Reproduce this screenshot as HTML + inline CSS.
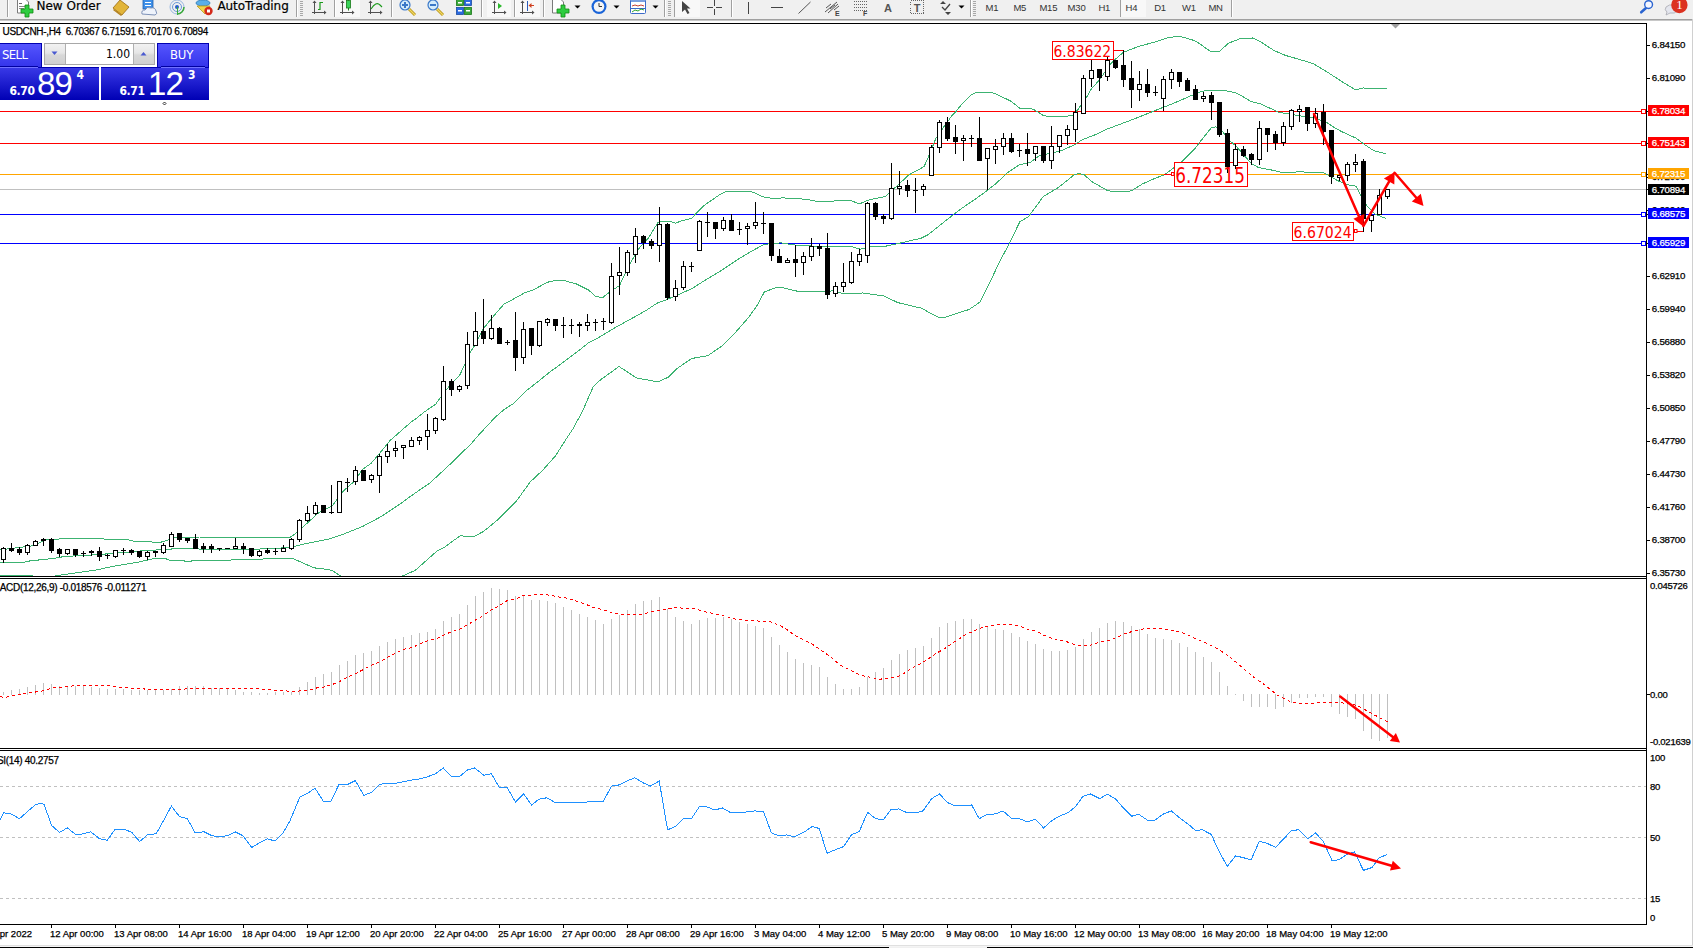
<!DOCTYPE html>
<html><head><meta charset="utf-8"><title>USDCNH-,H4</title>
<style>html,body{margin:0;padding:0;background:#fff;overflow:hidden;width:1693px;height:948px}svg{display:block}text.t{stroke-width:0.25px}</style>
</head><body>
<svg width="1693" height="948" viewBox="0 0 1693 948">
<rect x="0" y="0" width="1693" height="948" fill="#ffffff"/>
<defs><clipPath id="cm"><rect x="0" y="24" width="1646" height="552"/></clipPath><clipPath id="cmacd"><rect x="0" y="579" width="1646" height="169"/></clipPath><clipPath id="crsi"><rect x="0" y="751" width="1646" height="173"/></clipPath></defs>
<rect x="0" y="111" width="1646" height="1" fill="#ff0000"/>
<rect x="0" y="143" width="1646" height="1" fill="#ff0000"/>
<rect x="0" y="174" width="1646" height="1" fill="#ffa500"/>
<rect x="0" y="189" width="1646" height="1" fill="#c0c0c0"/>
<rect x="0" y="214" width="1646" height="1" fill="#0000ff"/>
<rect x="0" y="243" width="1646" height="1" fill="#0000ff"/>
<g clip-path="url(#cm)" shape-rendering="crispEdges">
<polyline fill="none" stroke="#3cb371" stroke-width="1" points="0,549.9 31.9,545.9 47,539.7 62,538.8 103.7,538.8 104.6,539.7 127.6,539.7 136.4,541.9 151.5,541.9 158.6,542.8 166.6,540.6 169.2,539.2 173.7,537.5 200.2,537 201.1,537.9 286.2,537.9 290.1,537.3 296.5,532.9 302.2,527.8 310.4,520.2 318,513.3 324.3,509.5 331.9,506.3 343.3,491.1 354.7,481 362.3,469.6 371.1,463.3 378.7,454.4 390.1,440.5 410,423 417,417.8 425.1,411.4 435.5,404.4 441.3,396.3 446,389.9 454.1,381.2 459.5,375.5 464.5,365.3 469.8,353.2 475.1,344.7 482.5,329.8 491,319.2 496.3,312.8 503.8,304.3 514.4,298.5 525.1,292.6 533.1,290 547.3,282.3 554.3,280.6 565,280.8 576.8,284.1 588.6,290 595.7,296.5 602.8,297.5 608.1,293.3 613.9,289.3 619.5,285.5 629,265.5 638.3,249.2 648.7,237.6 658,222.5 660.5,221.6 671,221.8 675.7,223.2 681.2,220.8 691.5,218.5 695.2,214.5 703.6,205.9 708.8,202 712.7,199.7 719.2,194.9 725.1,191.9 729,191.2 749.8,191.2 755,192.9 762.8,196.8 768,197.8 775.8,198.8 782.9,197.8 791.4,198.8 800,198.8 810.6,200.1 818.7,201.9 839.6,200.7 851.2,200.7 859.4,203.9 869.8,199.6 882.6,197.2 886,196 893.9,188.7 909,174.8 924.1,166.6 928.7,156.2 935.7,138.8 942.7,128.4 952,115.6 957.1,110.2 959.5,106.9 964.2,101.9 971.3,94.8 976,92.7 978.4,92 989.7,92 993.5,93.2 997.3,94.6 1002,97 1006.7,99.1 1010.5,101 1013.3,103.1 1017.1,105.9 1019.5,108.1 1028.5,108.1 1034.3,109.8 1043.6,115.6 1049.3,116.6 1063.2,116.6 1072.5,115.5 1078.3,109.1 1086.4,97.5 1091.1,89.3 1100.3,78.9 1109.6,65 1115.4,59.2 1123.6,52.2 1138.6,46.4 1156,41.7 1167.7,37.7 1176.9,36.5 1181.6,36.9 1190.9,39.4 1196.7,41.7 1208.3,49.9 1211.3,51.7 1219.1,51.7 1228.4,43.2 1241.1,38.3 1252.5,38 1259.5,41.1 1273.7,50.3 1285.1,55.3 1302.1,60.2 1313.4,63.8 1327.6,72.3 1341.8,81.5 1355.9,90 1363,87.9 1370.1,88.6 1387.1,89" />
<polyline fill="none" stroke="#3cb371" stroke-width="1" points="0,562.7 22,562.7 30,560.9 55,558.3 64,556.5 97.5,554.7 142.7,550.8 166.6,549.4 175.4,548.7 197.6,548.7 202,549.9 214.4,549.9 219.7,549 246.3,549 250.7,549.4 280,548.1 292.7,546.8 305.3,543.7 330.6,538.6 343.3,534.2 362.3,526.6 381.3,516.5 400.3,503.8 414.2,493.7 430,482.9 454.1,460.5 471.5,443.3 479.6,434 495.8,416.6 504,409.7 514.2,403 526.9,390.3 538,381.6 550.7,371.3 556.9,367 578.2,351.1 588.8,342.6 597.7,338.1 615.4,327.5 633.2,317.7 646.4,310.2 658,302.6 665,300.3 678.9,294.5 692.8,288.1 704.4,280.6 721.9,270.1 739.3,258.5 750.9,251.6 762.5,245.2 768.3,244 780,242.9 783.9,243.1 792,244.8 816.4,246.3 851.2,246.6 860.5,249.1 871,246.6 883.7,246.6 900.6,243 921.1,238.2 928,234.8 941.7,223.8 954,214.2 962.3,208 973.2,200.5 978.6,196.8 987.9,189.9 996,183.5 1007.7,172.5 1019.3,164.9 1030.9,162 1040,155.1 1051.6,153.4 1063.2,149.9 1074.8,144.6 1081.8,140 1092.2,135.9 1098,133.6 1107.3,129 1116.6,125.5 1132.8,119.5 1156,110.2 1167.7,105.6 1179.3,100.9 1190.9,95.7 1200,92.1 1208.5,90 1222.7,90 1235.4,92.8 1241.2,95.5 1250.5,101.3 1259.8,103.6 1270.2,108.3 1278.4,112.3 1287.7,113.8 1299.3,115.8 1308.9,117 1320.1,119.9 1327.1,122.8 1334.1,127.4 1341.4,131.5 1356.1,138.2 1365,144.8 1373.8,150.7 1386.4,154" />
<polyline fill="none" stroke="#3cb371" stroke-width="1" points="0,575.5 32,575.5 40,578.5 52,578.5 56,575.7 97.5,569.8 109,567.1 140,561.8 153.3,558.7 165.7,558.7 171,560.9 184.3,560.9 185,561.8 190.5,561.8 191.4,560.9 230.4,560.9 231.3,559.6 262.3,559.6 263.4,558.7 292.5,558.4 313.8,567.8 328,569.5 332.7,570.9 341,576.1 350,582.5 390,582.5 402.4,576.1 415.4,570.2 436.7,551.3 443.7,547.8 453.2,540.7 460.3,535.9 474.5,536.4 483.9,531.2 498.1,519.4 515.8,501.9 530.1,482.1 542.7,470.2 555.4,456 566.5,438.6 572.8,429.1 582.3,411.7 593.4,386.3 601.3,379.2 612.4,371.3 619,366.5 636.7,378 658,381.9 668.6,377.1 677.5,368.2 691.6,358.5 707.6,355.8 721.8,346.1 735.9,331.9 748.4,317.7 757.2,305.3 764.3,292 774.9,287.9 783.8,287.9 799,291.6 822.2,291.6 835,290.7 843.1,293.9 862.8,293 883.7,295.9 897.8,302.6 921.1,308.1 939,317.7 945.8,317 969.1,309.5 980.1,302 989.7,282.8 999.3,262.2 1008.9,244.4 1019.8,221.8 1028.1,217 1040.4,200.5 1043.5,196.3 1057.4,188.2 1065.5,181.8 1074.8,174.2 1079.5,173.7 1084.1,174.8 1092.2,181.8 1107.3,190.5 1113.1,191.6 1125.9,191.6 1131.7,190.7 1142.1,184.1 1153.7,178.9 1164.2,174.8 1174.6,167.3 1183,160.5 1194.8,148.9 1201.8,139.6 1211.1,128 1215.7,126.8 1221.5,130.3 1229.6,140.8 1235.4,145.4 1243.6,154.7 1251.7,164 1258.6,167.5 1276,170.9 1281.9,172.7 1293.5,172.1 1300,171.8 1323.6,172.9 1329.5,175.8 1336.9,180.3 1347.3,184.7 1356.1,186.2 1360.6,195 1366.5,205.4 1375.3,214.2 1386.4,218.7" />
</g>
<rect x="1113" y="50" width="11" height="1" fill="#ff0000"/>
<rect x="1052.5" y="41.5" width="61" height="18" fill="#fff" stroke="#ff0000" stroke-width="1" shape-rendering="crispEdges"/>
<rect x="1164" y="174" width="8" height="1" fill="#ff0000"/>
<rect x="1171.5" y="172.5" width="2.5" height="3" fill="#fff" stroke="#ff0000" stroke-width="1"/>
<rect x="1174.5" y="162.5" width="73" height="24" fill="#fff" stroke="#ff0000" stroke-width="1" shape-rendering="crispEdges"/>
<rect x="1357" y="231" width="7" height="1" fill="#ff0000"/>
<rect x="1354.5" y="229.5" width="2.5" height="3" fill="#fff" stroke="#ff0000" stroke-width="1"/>
<rect x="1292.5" y="222.5" width="61" height="18" fill="#fff" stroke="#ff0000" stroke-width="1" shape-rendering="crispEdges"/>
<g clip-path="url(#cm)" shape-rendering="crispEdges">
<rect x="3" y="547" width="1" height="16" fill="#000"/>
<rect x="1" y="548" width="5" height="12" fill="#000"/>
<rect x="2" y="549" width="3" height="10" fill="#fff"/>
<rect x="11" y="543" width="1" height="9" fill="#000"/>
<rect x="9" y="548" width="5" height="3" fill="#000"/>
<rect x="19" y="547" width="1" height="8" fill="#000"/>
<rect x="17" y="549" width="5" height="4" fill="#000"/>
<rect x="27" y="544" width="1" height="11" fill="#000"/>
<rect x="25" y="545" width="5" height="8" fill="#000"/>
<rect x="26" y="546" width="3" height="6" fill="#fff"/>
<rect x="35" y="540" width="1" height="6" fill="#000"/>
<rect x="33" y="541" width="5" height="5" fill="#000"/>
<rect x="34" y="542" width="3" height="3" fill="#fff"/>
<rect x="43" y="538" width="1" height="8" fill="#000"/>
<rect x="41" y="539" width="5" height="2" fill="#000"/>
<rect x="51" y="538" width="1" height="15" fill="#000"/>
<rect x="49" y="539" width="5" height="12" fill="#000"/>
<rect x="59" y="548" width="1" height="9" fill="#000"/>
<rect x="57" y="549" width="5" height="5" fill="#000"/>
<rect x="67" y="549" width="1" height="6" fill="#000"/>
<rect x="65" y="549" width="5" height="5" fill="#000"/>
<rect x="66" y="550" width="3" height="3" fill="#fff"/>
<rect x="75" y="549" width="1" height="8" fill="#000"/>
<rect x="73" y="549" width="5" height="6" fill="#000"/>
<rect x="83" y="551" width="1" height="6" fill="#000"/>
<rect x="81" y="553" width="5" height="1" fill="#000"/>
<rect x="91" y="550" width="1" height="6" fill="#000"/>
<rect x="89" y="551" width="5" height="2" fill="#000"/>
<rect x="99" y="547" width="1" height="14" fill="#000"/>
<rect x="97" y="551" width="5" height="6" fill="#000"/>
<rect x="107" y="554" width="1" height="5" fill="#000"/>
<rect x="105" y="555" width="5" height="1" fill="#000"/>
<rect x="115" y="550" width="1" height="8" fill="#000"/>
<rect x="113" y="550" width="5" height="7" fill="#000"/>
<rect x="114" y="551" width="3" height="5" fill="#fff"/>
<rect x="123" y="548" width="1" height="7" fill="#000"/>
<rect x="121" y="550" width="5" height="1" fill="#000"/>
<rect x="131" y="549" width="1" height="6" fill="#000"/>
<rect x="129" y="550" width="5" height="3" fill="#000"/>
<rect x="139" y="551" width="1" height="7" fill="#000"/>
<rect x="137" y="551" width="5" height="6" fill="#000"/>
<rect x="147" y="551" width="1" height="9" fill="#000"/>
<rect x="145" y="552" width="5" height="5" fill="#000"/>
<rect x="146" y="553" width="3" height="3" fill="#fff"/>
<rect x="155" y="551" width="1" height="6" fill="#000"/>
<rect x="153" y="551" width="5" height="2" fill="#000"/>
<rect x="163" y="543" width="1" height="11" fill="#000"/>
<rect x="161" y="545" width="5" height="8" fill="#000"/>
<rect x="162" y="546" width="3" height="6" fill="#fff"/>
<rect x="171" y="532" width="1" height="15" fill="#000"/>
<rect x="169" y="534" width="5" height="13" fill="#000"/>
<rect x="170" y="535" width="3" height="11" fill="#fff"/>
<rect x="179" y="533" width="1" height="9" fill="#000"/>
<rect x="177" y="533" width="5" height="7" fill="#000"/>
<rect x="187" y="538" width="1" height="5" fill="#000"/>
<rect x="185" y="538" width="5" height="3" fill="#000"/>
<rect x="195" y="534" width="1" height="15" fill="#000"/>
<rect x="193" y="539" width="5" height="10" fill="#000"/>
<rect x="203" y="543" width="1" height="10" fill="#000"/>
<rect x="201" y="546" width="5" height="3" fill="#000"/>
<rect x="211" y="544" width="1" height="9" fill="#000"/>
<rect x="209" y="546" width="5" height="3" fill="#000"/>
<rect x="219" y="548" width="1" height="3" fill="#000"/>
<rect x="217" y="548" width="5" height="1" fill="#000"/>
<rect x="227" y="548" width="1" height="1" fill="#000"/>
<rect x="225" y="548" width="5" height="1" fill="#000"/>
<rect x="235" y="538" width="1" height="11" fill="#000"/>
<rect x="233" y="546" width="5" height="3" fill="#000"/>
<rect x="234" y="547" width="3" height="1" fill="#fff"/>
<rect x="243" y="543" width="1" height="11" fill="#000"/>
<rect x="241" y="546" width="5" height="3" fill="#000"/>
<rect x="251" y="548" width="1" height="9" fill="#000"/>
<rect x="249" y="548" width="5" height="8" fill="#000"/>
<rect x="259" y="550" width="1" height="7" fill="#000"/>
<rect x="257" y="551" width="5" height="5" fill="#000"/>
<rect x="258" y="552" width="3" height="3" fill="#fff"/>
<rect x="267" y="548" width="1" height="6" fill="#000"/>
<rect x="265" y="550" width="5" height="3" fill="#000"/>
<rect x="275" y="548" width="1" height="7" fill="#000"/>
<rect x="273" y="551" width="5" height="1" fill="#000"/>
<rect x="283" y="545" width="1" height="7" fill="#000"/>
<rect x="281" y="548" width="5" height="4" fill="#000"/>
<rect x="282" y="549" width="3" height="2" fill="#fff"/>
<rect x="291" y="538" width="1" height="12" fill="#000"/>
<rect x="289" y="539" width="5" height="10" fill="#000"/>
<rect x="290" y="540" width="3" height="8" fill="#fff"/>
<rect x="299" y="519" width="1" height="23" fill="#000"/>
<rect x="297" y="520" width="5" height="20" fill="#000"/>
<rect x="298" y="521" width="3" height="18" fill="#fff"/>
<rect x="307" y="506" width="1" height="16" fill="#000"/>
<rect x="305" y="513" width="5" height="8" fill="#000"/>
<rect x="306" y="514" width="3" height="6" fill="#fff"/>
<rect x="315" y="502" width="1" height="13" fill="#000"/>
<rect x="313" y="505" width="5" height="9" fill="#000"/>
<rect x="314" y="506" width="3" height="7" fill="#fff"/>
<rect x="323" y="505" width="1" height="8" fill="#000"/>
<rect x="321" y="505" width="5" height="8" fill="#000"/>
<rect x="331" y="485" width="1" height="29" fill="#000"/>
<rect x="329" y="512" width="5" height="1" fill="#000"/>
<rect x="339" y="481" width="1" height="32" fill="#000"/>
<rect x="337" y="481" width="5" height="32" fill="#000"/>
<rect x="338" y="482" width="3" height="30" fill="#fff"/>
<rect x="347" y="478" width="1" height="14" fill="#000"/>
<rect x="345" y="482" width="5" height="1" fill="#000"/>
<rect x="355" y="466" width="1" height="19" fill="#000"/>
<rect x="353" y="470" width="5" height="12" fill="#000"/>
<rect x="354" y="471" width="3" height="10" fill="#fff"/>
<rect x="363" y="470" width="1" height="11" fill="#000"/>
<rect x="361" y="470" width="5" height="11" fill="#000"/>
<rect x="371" y="474" width="1" height="9" fill="#000"/>
<rect x="369" y="475" width="5" height="5" fill="#000"/>
<rect x="370" y="476" width="3" height="3" fill="#fff"/>
<rect x="379" y="454" width="1" height="39" fill="#000"/>
<rect x="377" y="456" width="5" height="20" fill="#000"/>
<rect x="378" y="457" width="3" height="18" fill="#fff"/>
<rect x="387" y="444" width="1" height="19" fill="#000"/>
<rect x="385" y="451" width="5" height="6" fill="#000"/>
<rect x="386" y="452" width="3" height="4" fill="#fff"/>
<rect x="395" y="441" width="1" height="16" fill="#000"/>
<rect x="393" y="448" width="5" height="3" fill="#000"/>
<rect x="394" y="449" width="3" height="1" fill="#fff"/>
<rect x="403" y="445" width="1" height="14" fill="#000"/>
<rect x="401" y="445" width="5" height="3" fill="#000"/>
<rect x="402" y="446" width="3" height="1" fill="#fff"/>
<rect x="411" y="437" width="1" height="10" fill="#000"/>
<rect x="409" y="440" width="5" height="7" fill="#000"/>
<rect x="410" y="441" width="3" height="5" fill="#fff"/>
<rect x="419" y="436" width="1" height="9" fill="#000"/>
<rect x="417" y="437" width="5" height="4" fill="#000"/>
<rect x="418" y="438" width="3" height="2" fill="#fff"/>
<rect x="427" y="414" width="1" height="36" fill="#000"/>
<rect x="425" y="430" width="5" height="7" fill="#000"/>
<rect x="426" y="431" width="3" height="5" fill="#fff"/>
<rect x="435" y="417" width="1" height="17" fill="#000"/>
<rect x="433" y="418" width="5" height="13" fill="#000"/>
<rect x="434" y="419" width="3" height="11" fill="#fff"/>
<rect x="443" y="366" width="1" height="55" fill="#000"/>
<rect x="441" y="381" width="5" height="39" fill="#000"/>
<rect x="442" y="382" width="3" height="37" fill="#fff"/>
<rect x="451" y="379" width="1" height="17" fill="#000"/>
<rect x="449" y="381" width="5" height="9" fill="#000"/>
<rect x="459" y="385" width="1" height="7" fill="#000"/>
<rect x="457" y="386" width="5" height="4" fill="#000"/>
<rect x="458" y="387" width="3" height="2" fill="#fff"/>
<rect x="467" y="332" width="1" height="57" fill="#000"/>
<rect x="465" y="344" width="5" height="42" fill="#000"/>
<rect x="466" y="345" width="3" height="40" fill="#fff"/>
<rect x="475" y="312" width="1" height="34" fill="#000"/>
<rect x="473" y="331" width="5" height="15" fill="#000"/>
<rect x="474" y="332" width="3" height="13" fill="#fff"/>
<rect x="483" y="299" width="1" height="45" fill="#000"/>
<rect x="481" y="331" width="5" height="8" fill="#000"/>
<rect x="491" y="315" width="1" height="25" fill="#000"/>
<rect x="489" y="328" width="5" height="11" fill="#000"/>
<rect x="490" y="329" width="3" height="9" fill="#fff"/>
<rect x="499" y="327" width="1" height="17" fill="#000"/>
<rect x="497" y="328" width="5" height="16" fill="#000"/>
<rect x="507" y="340" width="1" height="5" fill="#000"/>
<rect x="505" y="342" width="5" height="1" fill="#000"/>
<rect x="515" y="312" width="1" height="59" fill="#000"/>
<rect x="513" y="340" width="5" height="18" fill="#000"/>
<rect x="523" y="322" width="1" height="42" fill="#000"/>
<rect x="521" y="329" width="5" height="29" fill="#000"/>
<rect x="522" y="330" width="3" height="27" fill="#fff"/>
<rect x="531" y="328" width="1" height="27" fill="#000"/>
<rect x="529" y="328" width="5" height="18" fill="#000"/>
<rect x="539" y="321" width="1" height="26" fill="#000"/>
<rect x="537" y="321" width="5" height="25" fill="#000"/>
<rect x="538" y="322" width="3" height="23" fill="#fff"/>
<rect x="547" y="318" width="1" height="8" fill="#000"/>
<rect x="545" y="319" width="5" height="4" fill="#000"/>
<rect x="546" y="320" width="3" height="2" fill="#fff"/>
<rect x="555" y="319" width="1" height="12" fill="#000"/>
<rect x="553" y="319" width="5" height="7" fill="#000"/>
<rect x="563" y="317" width="1" height="21" fill="#000"/>
<rect x="561" y="325" width="5" height="1" fill="#000"/>
<rect x="571" y="319" width="1" height="15" fill="#000"/>
<rect x="569" y="325" width="5" height="1" fill="#000"/>
<rect x="579" y="322" width="1" height="15" fill="#000"/>
<rect x="577" y="324" width="5" height="2" fill="#000"/>
<rect x="587" y="314" width="1" height="17" fill="#000"/>
<rect x="585" y="322" width="5" height="4" fill="#000"/>
<rect x="586" y="323" width="3" height="2" fill="#fff"/>
<rect x="595" y="319" width="1" height="12" fill="#000"/>
<rect x="593" y="322" width="5" height="1" fill="#000"/>
<rect x="603" y="318" width="1" height="12" fill="#000"/>
<rect x="601" y="321" width="5" height="1" fill="#000"/>
<rect x="611" y="263" width="1" height="61" fill="#000"/>
<rect x="609" y="276" width="5" height="47" fill="#000"/>
<rect x="610" y="277" width="3" height="45" fill="#fff"/>
<rect x="619" y="247" width="1" height="48" fill="#000"/>
<rect x="617" y="272" width="5" height="4" fill="#000"/>
<rect x="618" y="273" width="3" height="2" fill="#fff"/>
<rect x="627" y="250" width="1" height="26" fill="#000"/>
<rect x="625" y="252" width="5" height="21" fill="#000"/>
<rect x="626" y="253" width="3" height="19" fill="#fff"/>
<rect x="635" y="228" width="1" height="35" fill="#000"/>
<rect x="633" y="236" width="5" height="19" fill="#000"/>
<rect x="634" y="237" width="3" height="17" fill="#fff"/>
<rect x="643" y="235" width="1" height="14" fill="#000"/>
<rect x="641" y="236" width="5" height="7" fill="#000"/>
<rect x="651" y="239" width="1" height="10" fill="#000"/>
<rect x="649" y="241" width="5" height="5" fill="#000"/>
<rect x="659" y="207" width="1" height="55" fill="#000"/>
<rect x="657" y="224" width="5" height="22" fill="#000"/>
<rect x="658" y="225" width="3" height="20" fill="#fff"/>
<rect x="667" y="223" width="1" height="77" fill="#000"/>
<rect x="665" y="224" width="5" height="74" fill="#000"/>
<rect x="675" y="280" width="1" height="21" fill="#000"/>
<rect x="673" y="288" width="5" height="9" fill="#000"/>
<rect x="674" y="289" width="3" height="7" fill="#fff"/>
<rect x="683" y="261" width="1" height="29" fill="#000"/>
<rect x="681" y="266" width="5" height="22" fill="#000"/>
<rect x="682" y="267" width="3" height="20" fill="#fff"/>
<rect x="691" y="262" width="1" height="10" fill="#000"/>
<rect x="689" y="266" width="5" height="1" fill="#000"/>
<rect x="699" y="220" width="1" height="31" fill="#000"/>
<rect x="697" y="221" width="5" height="30" fill="#000"/>
<rect x="698" y="222" width="3" height="28" fill="#fff"/>
<rect x="707" y="212" width="1" height="25" fill="#000"/>
<rect x="705" y="222" width="5" height="1" fill="#000"/>
<rect x="715" y="222" width="1" height="17" fill="#000"/>
<rect x="713" y="222" width="5" height="7" fill="#000"/>
<rect x="723" y="217" width="1" height="14" fill="#000"/>
<rect x="721" y="220" width="5" height="9" fill="#000"/>
<rect x="722" y="221" width="3" height="7" fill="#fff"/>
<rect x="731" y="214" width="1" height="17" fill="#000"/>
<rect x="729" y="220" width="5" height="11" fill="#000"/>
<rect x="739" y="222" width="1" height="13" fill="#000"/>
<rect x="737" y="229" width="5" height="1" fill="#000"/>
<rect x="747" y="223" width="1" height="22" fill="#000"/>
<rect x="745" y="226" width="5" height="3" fill="#000"/>
<rect x="746" y="227" width="3" height="1" fill="#fff"/>
<rect x="755" y="202" width="1" height="27" fill="#000"/>
<rect x="753" y="222" width="5" height="4" fill="#000"/>
<rect x="754" y="223" width="3" height="2" fill="#fff"/>
<rect x="763" y="212" width="1" height="22" fill="#000"/>
<rect x="761" y="223" width="5" height="1" fill="#000"/>
<rect x="771" y="223" width="1" height="38" fill="#000"/>
<rect x="769" y="223" width="5" height="33" fill="#000"/>
<rect x="779" y="249" width="1" height="14" fill="#000"/>
<rect x="777" y="256" width="5" height="7" fill="#000"/>
<rect x="787" y="258" width="1" height="5" fill="#000"/>
<rect x="785" y="260" width="5" height="3" fill="#000"/>
<rect x="786" y="261" width="3" height="1" fill="#fff"/>
<rect x="795" y="245" width="1" height="32" fill="#000"/>
<rect x="793" y="259" width="5" height="4" fill="#000"/>
<rect x="803" y="252" width="1" height="23" fill="#000"/>
<rect x="801" y="256" width="5" height="7" fill="#000"/>
<rect x="802" y="257" width="3" height="5" fill="#fff"/>
<rect x="811" y="238" width="1" height="23" fill="#000"/>
<rect x="809" y="246" width="5" height="11" fill="#000"/>
<rect x="810" y="247" width="3" height="9" fill="#fff"/>
<rect x="819" y="244" width="1" height="12" fill="#000"/>
<rect x="817" y="246" width="5" height="3" fill="#000"/>
<rect x="827" y="233" width="1" height="66" fill="#000"/>
<rect x="825" y="248" width="5" height="47" fill="#000"/>
<rect x="835" y="282" width="1" height="15" fill="#000"/>
<rect x="833" y="286" width="5" height="8" fill="#000"/>
<rect x="834" y="287" width="3" height="6" fill="#fff"/>
<rect x="843" y="263" width="1" height="29" fill="#000"/>
<rect x="841" y="282" width="5" height="5" fill="#000"/>
<rect x="842" y="283" width="3" height="3" fill="#fff"/>
<rect x="851" y="252" width="1" height="32" fill="#000"/>
<rect x="849" y="261" width="5" height="22" fill="#000"/>
<rect x="850" y="262" width="3" height="20" fill="#fff"/>
<rect x="859" y="249" width="1" height="17" fill="#000"/>
<rect x="857" y="254" width="5" height="8" fill="#000"/>
<rect x="858" y="255" width="3" height="6" fill="#fff"/>
<rect x="867" y="202" width="1" height="61" fill="#000"/>
<rect x="865" y="203" width="5" height="53" fill="#000"/>
<rect x="866" y="204" width="3" height="51" fill="#fff"/>
<rect x="875" y="202" width="1" height="18" fill="#000"/>
<rect x="873" y="203" width="5" height="14" fill="#000"/>
<rect x="883" y="214" width="1" height="10" fill="#000"/>
<rect x="881" y="216" width="5" height="3" fill="#000"/>
<rect x="891" y="163" width="1" height="57" fill="#000"/>
<rect x="889" y="188" width="5" height="31" fill="#000"/>
<rect x="890" y="189" width="3" height="29" fill="#fff"/>
<rect x="899" y="171" width="1" height="24" fill="#000"/>
<rect x="897" y="186" width="5" height="3" fill="#000"/>
<rect x="898" y="187" width="3" height="1" fill="#fff"/>
<rect x="907" y="180" width="1" height="17" fill="#000"/>
<rect x="905" y="185" width="5" height="6" fill="#000"/>
<rect x="915" y="178" width="1" height="35" fill="#000"/>
<rect x="913" y="190" width="5" height="1" fill="#000"/>
<rect x="923" y="184" width="1" height="12" fill="#000"/>
<rect x="921" y="186" width="5" height="4" fill="#000"/>
<rect x="922" y="187" width="3" height="2" fill="#fff"/>
<rect x="931" y="145" width="1" height="31" fill="#000"/>
<rect x="929" y="147" width="5" height="29" fill="#000"/>
<rect x="930" y="148" width="3" height="27" fill="#fff"/>
<rect x="939" y="120" width="1" height="33" fill="#000"/>
<rect x="937" y="122" width="5" height="26" fill="#000"/>
<rect x="938" y="123" width="3" height="24" fill="#fff"/>
<rect x="947" y="117" width="1" height="24" fill="#000"/>
<rect x="945" y="122" width="5" height="17" fill="#000"/>
<rect x="955" y="125" width="1" height="29" fill="#000"/>
<rect x="953" y="137" width="5" height="5" fill="#000"/>
<rect x="963" y="135" width="1" height="26" fill="#000"/>
<rect x="961" y="138" width="5" height="3" fill="#000"/>
<rect x="962" y="139" width="3" height="1" fill="#fff"/>
<rect x="971" y="135" width="1" height="12" fill="#000"/>
<rect x="969" y="138" width="5" height="1" fill="#000"/>
<rect x="979" y="117" width="1" height="44" fill="#000"/>
<rect x="977" y="138" width="5" height="23" fill="#000"/>
<rect x="987" y="148" width="1" height="42" fill="#000"/>
<rect x="985" y="148" width="5" height="11" fill="#000"/>
<rect x="986" y="149" width="3" height="9" fill="#fff"/>
<rect x="995" y="139" width="1" height="25" fill="#000"/>
<rect x="993" y="146" width="5" height="4" fill="#000"/>
<rect x="994" y="147" width="3" height="2" fill="#fff"/>
<rect x="1003" y="133" width="1" height="22" fill="#000"/>
<rect x="1001" y="138" width="5" height="9" fill="#000"/>
<rect x="1002" y="139" width="3" height="7" fill="#fff"/>
<rect x="1011" y="133" width="1" height="20" fill="#000"/>
<rect x="1009" y="138" width="5" height="14" fill="#000"/>
<rect x="1019" y="144" width="1" height="13" fill="#000"/>
<rect x="1017" y="150" width="5" height="1" fill="#000"/>
<rect x="1027" y="133" width="1" height="33" fill="#000"/>
<rect x="1025" y="149" width="5" height="5" fill="#000"/>
<rect x="1035" y="146" width="1" height="15" fill="#000"/>
<rect x="1033" y="146" width="5" height="8" fill="#000"/>
<rect x="1034" y="147" width="3" height="6" fill="#fff"/>
<rect x="1043" y="146" width="1" height="17" fill="#000"/>
<rect x="1041" y="146" width="5" height="15" fill="#000"/>
<rect x="1051" y="126" width="1" height="43" fill="#000"/>
<rect x="1049" y="146" width="5" height="15" fill="#000"/>
<rect x="1050" y="147" width="3" height="13" fill="#fff"/>
<rect x="1059" y="135" width="1" height="18" fill="#000"/>
<rect x="1057" y="135" width="5" height="12" fill="#000"/>
<rect x="1058" y="136" width="3" height="10" fill="#fff"/>
<rect x="1067" y="125" width="1" height="20" fill="#000"/>
<rect x="1065" y="129" width="5" height="7" fill="#000"/>
<rect x="1066" y="130" width="3" height="5" fill="#fff"/>
<rect x="1075" y="103" width="1" height="39" fill="#000"/>
<rect x="1073" y="112" width="5" height="18" fill="#000"/>
<rect x="1074" y="113" width="3" height="16" fill="#fff"/>
<rect x="1083" y="75" width="1" height="39" fill="#000"/>
<rect x="1081" y="78" width="5" height="36" fill="#000"/>
<rect x="1082" y="79" width="3" height="34" fill="#fff"/>
<rect x="1091" y="60" width="1" height="27" fill="#000"/>
<rect x="1089" y="70" width="5" height="9" fill="#000"/>
<rect x="1090" y="71" width="3" height="7" fill="#fff"/>
<rect x="1099" y="69" width="1" height="22" fill="#000"/>
<rect x="1097" y="69" width="5" height="9" fill="#000"/>
<rect x="1107" y="57" width="1" height="24" fill="#000"/>
<rect x="1105" y="60" width="5" height="17" fill="#000"/>
<rect x="1106" y="61" width="3" height="15" fill="#fff"/>
<rect x="1115" y="60" width="1" height="9" fill="#000"/>
<rect x="1113" y="60" width="5" height="8" fill="#000"/>
<rect x="1123" y="50" width="1" height="37" fill="#000"/>
<rect x="1121" y="65" width="5" height="15" fill="#000"/>
<rect x="1131" y="61" width="1" height="47" fill="#000"/>
<rect x="1129" y="78" width="5" height="12" fill="#000"/>
<rect x="1139" y="71" width="1" height="30" fill="#000"/>
<rect x="1137" y="84" width="5" height="6" fill="#000"/>
<rect x="1138" y="85" width="3" height="4" fill="#fff"/>
<rect x="1147" y="69" width="1" height="28" fill="#000"/>
<rect x="1145" y="84" width="5" height="9" fill="#000"/>
<rect x="1155" y="86" width="1" height="10" fill="#000"/>
<rect x="1153" y="92" width="5" height="1" fill="#000"/>
<rect x="1163" y="76" width="1" height="35" fill="#000"/>
<rect x="1161" y="79" width="5" height="20" fill="#000"/>
<rect x="1162" y="80" width="3" height="18" fill="#fff"/>
<rect x="1171" y="69" width="1" height="20" fill="#000"/>
<rect x="1169" y="72" width="5" height="8" fill="#000"/>
<rect x="1170" y="73" width="3" height="6" fill="#fff"/>
<rect x="1179" y="72" width="1" height="15" fill="#000"/>
<rect x="1177" y="72" width="5" height="10" fill="#000"/>
<rect x="1187" y="78" width="1" height="13" fill="#000"/>
<rect x="1185" y="80" width="5" height="11" fill="#000"/>
<rect x="1195" y="85" width="1" height="15" fill="#000"/>
<rect x="1193" y="89" width="5" height="11" fill="#000"/>
<rect x="1203" y="92" width="1" height="10" fill="#000"/>
<rect x="1201" y="96" width="5" height="3" fill="#000"/>
<rect x="1202" y="97" width="3" height="1" fill="#fff"/>
<rect x="1211" y="92" width="1" height="28" fill="#000"/>
<rect x="1209" y="95" width="5" height="8" fill="#000"/>
<rect x="1219" y="102" width="1" height="35" fill="#000"/>
<rect x="1217" y="102" width="5" height="33" fill="#000"/>
<rect x="1227" y="129" width="1" height="44" fill="#000"/>
<rect x="1225" y="133" width="5" height="34" fill="#000"/>
<rect x="1235" y="144" width="1" height="25" fill="#000"/>
<rect x="1233" y="149" width="5" height="17" fill="#000"/>
<rect x="1234" y="150" width="3" height="15" fill="#fff"/>
<rect x="1243" y="146" width="1" height="11" fill="#000"/>
<rect x="1241" y="149" width="5" height="7" fill="#000"/>
<rect x="1251" y="153" width="1" height="12" fill="#000"/>
<rect x="1249" y="154" width="5" height="6" fill="#000"/>
<rect x="1259" y="121" width="1" height="44" fill="#000"/>
<rect x="1257" y="128" width="5" height="32" fill="#000"/>
<rect x="1258" y="129" width="3" height="30" fill="#fff"/>
<rect x="1267" y="128" width="1" height="24" fill="#000"/>
<rect x="1265" y="128" width="5" height="7" fill="#000"/>
<rect x="1275" y="131" width="1" height="19" fill="#000"/>
<rect x="1273" y="134" width="5" height="9" fill="#000"/>
<rect x="1283" y="122" width="1" height="24" fill="#000"/>
<rect x="1281" y="126" width="5" height="17" fill="#000"/>
<rect x="1282" y="127" width="3" height="15" fill="#fff"/>
<rect x="1291" y="109" width="1" height="21" fill="#000"/>
<rect x="1289" y="110" width="5" height="17" fill="#000"/>
<rect x="1290" y="111" width="3" height="15" fill="#fff"/>
<rect x="1299" y="105" width="1" height="17" fill="#000"/>
<rect x="1297" y="109" width="5" height="3" fill="#000"/>
<rect x="1298" y="110" width="3" height="1" fill="#fff"/>
<rect x="1307" y="107" width="1" height="24" fill="#000"/>
<rect x="1305" y="107" width="5" height="17" fill="#000"/>
<rect x="1315" y="108" width="1" height="20" fill="#000"/>
<rect x="1313" y="113" width="5" height="11" fill="#000"/>
<rect x="1314" y="114" width="3" height="9" fill="#fff"/>
<rect x="1323" y="104" width="1" height="41" fill="#000"/>
<rect x="1321" y="112" width="5" height="20" fill="#000"/>
<rect x="1331" y="130" width="1" height="54" fill="#000"/>
<rect x="1329" y="130" width="5" height="47" fill="#000"/>
<rect x="1339" y="172" width="1" height="9" fill="#000"/>
<rect x="1337" y="175" width="5" height="3" fill="#000"/>
<rect x="1338" y="176" width="3" height="1" fill="#fff"/>
<rect x="1347" y="162" width="1" height="19" fill="#000"/>
<rect x="1345" y="164" width="5" height="12" fill="#000"/>
<rect x="1346" y="165" width="3" height="10" fill="#fff"/>
<rect x="1355" y="154" width="1" height="18" fill="#000"/>
<rect x="1353" y="162" width="5" height="3" fill="#000"/>
<rect x="1354" y="163" width="3" height="1" fill="#fff"/>
<rect x="1363" y="159" width="1" height="73" fill="#000"/>
<rect x="1361" y="161" width="5" height="58" fill="#000"/>
<rect x="1371" y="214" width="1" height="18" fill="#000"/>
<rect x="1369" y="215" width="5" height="6" fill="#000"/>
<rect x="1370" y="216" width="3" height="4" fill="#fff"/>
<rect x="1379" y="189" width="1" height="26" fill="#000"/>
<rect x="1377" y="195" width="5" height="20" fill="#000"/>
<rect x="1378" y="196" width="3" height="18" fill="#fff"/>
<rect x="1387" y="189" width="1" height="10" fill="#000"/>
<rect x="1385" y="189" width="5" height="8" fill="#000"/>
<rect x="1386" y="190" width="3" height="6" fill="#fff"/>
</g>
<text transform="translate(1053.5 56.6) scale(1 1)" font-family="'DejaVu Sans Condensed', 'DejaVu Sans', sans-serif" font-size="15.5" fill="#ff0000">6.83622</text>
<text transform="translate(1175.3 182.6) scale(0.915 1)" font-family="'DejaVu Sans Condensed', 'DejaVu Sans', sans-serif" font-size="20.5" fill="#ff0000">6.72315</text>
<text transform="translate(1293.6 237.9) scale(0.975 1)" font-family="'DejaVu Sans Condensed', 'DejaVu Sans', sans-serif" font-size="16" fill="#ff0000">6.67024</text>
<rect x="1641.5" y="109.5" width="4" height="4" fill="#fff" stroke="#ff0000" stroke-width="1"/>
<rect x="1641.5" y="141.5" width="4" height="4" fill="#fff" stroke="#ff0000" stroke-width="1"/>
<rect x="1641.5" y="172.5" width="4" height="4" fill="#fff" stroke="#ffa500" stroke-width="1"/>
<rect x="1641.5" y="212.5" width="4" height="4" fill="#fff" stroke="#0000ff" stroke-width="1"/>
<rect x="1641.5" y="241.5" width="4" height="4" fill="#fff" stroke="#0000ff" stroke-width="1"/>
<g shape-rendering="crispEdges">
<rect x="0" y="23" width="1647" height="1" fill="#000"/>
<rect x="1646" y="23" width="1" height="902" fill="#000"/>
<rect x="0" y="576" width="1647" height="1" fill="#000"/>
<rect x="0" y="578" width="1647" height="1" fill="#000"/>
<rect x="0" y="748" width="1647" height="1" fill="#000"/>
<rect x="0" y="750" width="1647" height="1" fill="#000"/>
<rect x="0" y="924" width="1647" height="1" fill="#000"/>
</g>
<g clip-path="url(#cmacd)" shape-rendering="crispEdges">
<rect x="3" y="692" width="1" height="3" fill="#c0c0c0"/>
<rect x="11" y="690" width="1" height="5" fill="#c0c0c0"/>
<rect x="19" y="689" width="1" height="6" fill="#c0c0c0"/>
<rect x="27" y="687" width="1" height="8" fill="#c0c0c0"/>
<rect x="35" y="685" width="1" height="10" fill="#c0c0c0"/>
<rect x="43" y="683" width="1" height="12" fill="#c0c0c0"/>
<rect x="51" y="684" width="1" height="11" fill="#c0c0c0"/>
<rect x="59" y="686" width="1" height="9" fill="#c0c0c0"/>
<rect x="67" y="686" width="1" height="9" fill="#c0c0c0"/>
<rect x="75" y="686" width="1" height="9" fill="#c0c0c0"/>
<rect x="83" y="686" width="1" height="9" fill="#c0c0c0"/>
<rect x="91" y="687" width="1" height="8" fill="#c0c0c0"/>
<rect x="99" y="688" width="1" height="7" fill="#c0c0c0"/>
<rect x="107" y="689" width="1" height="6" fill="#c0c0c0"/>
<rect x="115" y="689" width="1" height="6" fill="#c0c0c0"/>
<rect x="123" y="689" width="1" height="6" fill="#c0c0c0"/>
<rect x="131" y="690" width="1" height="5" fill="#c0c0c0"/>
<rect x="139" y="690" width="1" height="5" fill="#c0c0c0"/>
<rect x="147" y="690" width="1" height="5" fill="#c0c0c0"/>
<rect x="155" y="689" width="1" height="6" fill="#c0c0c0"/>
<rect x="163" y="690" width="1" height="5" fill="#c0c0c0"/>
<rect x="171" y="689" width="1" height="6" fill="#c0c0c0"/>
<rect x="179" y="686" width="1" height="9" fill="#c0c0c0"/>
<rect x="187" y="686" width="1" height="9" fill="#c0c0c0"/>
<rect x="195" y="686" width="1" height="9" fill="#c0c0c0"/>
<rect x="203" y="686" width="1" height="9" fill="#c0c0c0"/>
<rect x="211" y="688" width="1" height="7" fill="#c0c0c0"/>
<rect x="219" y="688" width="1" height="7" fill="#c0c0c0"/>
<rect x="227" y="689" width="1" height="6" fill="#c0c0c0"/>
<rect x="235" y="690" width="1" height="5" fill="#c0c0c0"/>
<rect x="243" y="692" width="1" height="3" fill="#c0c0c0"/>
<rect x="251" y="692" width="1" height="3" fill="#c0c0c0"/>
<rect x="259" y="693" width="1" height="2" fill="#c0c0c0"/>
<rect x="267" y="693" width="1" height="2" fill="#c0c0c0"/>
<rect x="275" y="692" width="1" height="3" fill="#c0c0c0"/>
<rect x="283" y="692" width="1" height="3" fill="#c0c0c0"/>
<rect x="291" y="692" width="1" height="3" fill="#c0c0c0"/>
<rect x="299" y="687" width="1" height="8" fill="#c0c0c0"/>
<rect x="307" y="682" width="1" height="13" fill="#c0c0c0"/>
<rect x="315" y="677" width="1" height="18" fill="#c0c0c0"/>
<rect x="323" y="674" width="1" height="21" fill="#c0c0c0"/>
<rect x="331" y="672" width="1" height="23" fill="#c0c0c0"/>
<rect x="339" y="665" width="1" height="30" fill="#c0c0c0"/>
<rect x="347" y="661" width="1" height="34" fill="#c0c0c0"/>
<rect x="355" y="655" width="1" height="40" fill="#c0c0c0"/>
<rect x="363" y="653" width="1" height="42" fill="#c0c0c0"/>
<rect x="371" y="651" width="1" height="44" fill="#c0c0c0"/>
<rect x="379" y="646" width="1" height="49" fill="#c0c0c0"/>
<rect x="387" y="642" width="1" height="53" fill="#c0c0c0"/>
<rect x="395" y="639" width="1" height="56" fill="#c0c0c0"/>
<rect x="403" y="637" width="1" height="58" fill="#c0c0c0"/>
<rect x="411" y="635" width="1" height="60" fill="#c0c0c0"/>
<rect x="419" y="633" width="1" height="62" fill="#c0c0c0"/>
<rect x="427" y="632" width="1" height="63" fill="#c0c0c0"/>
<rect x="435" y="629" width="1" height="66" fill="#c0c0c0"/>
<rect x="443" y="621" width="1" height="74" fill="#c0c0c0"/>
<rect x="451" y="617" width="1" height="78" fill="#c0c0c0"/>
<rect x="459" y="614" width="1" height="81" fill="#c0c0c0"/>
<rect x="467" y="605" width="1" height="90" fill="#c0c0c0"/>
<rect x="475" y="596" width="1" height="99" fill="#c0c0c0"/>
<rect x="483" y="592" width="1" height="103" fill="#c0c0c0"/>
<rect x="491" y="588" width="1" height="107" fill="#c0c0c0"/>
<rect x="499" y="589" width="1" height="106" fill="#c0c0c0"/>
<rect x="507" y="590" width="1" height="105" fill="#c0c0c0"/>
<rect x="515" y="596" width="1" height="99" fill="#c0c0c0"/>
<rect x="523" y="596" width="1" height="99" fill="#c0c0c0"/>
<rect x="531" y="600" width="1" height="95" fill="#c0c0c0"/>
<rect x="539" y="600" width="1" height="95" fill="#c0c0c0"/>
<rect x="547" y="601" width="1" height="94" fill="#c0c0c0"/>
<rect x="555" y="603" width="1" height="92" fill="#c0c0c0"/>
<rect x="563" y="607" width="1" height="88" fill="#c0c0c0"/>
<rect x="571" y="610" width="1" height="85" fill="#c0c0c0"/>
<rect x="579" y="614" width="1" height="81" fill="#c0c0c0"/>
<rect x="587" y="617" width="1" height="78" fill="#c0c0c0"/>
<rect x="595" y="620" width="1" height="75" fill="#c0c0c0"/>
<rect x="603" y="624" width="1" height="71" fill="#c0c0c0"/>
<rect x="611" y="619" width="1" height="76" fill="#c0c0c0"/>
<rect x="619" y="615" width="1" height="80" fill="#c0c0c0"/>
<rect x="627" y="610" width="1" height="85" fill="#c0c0c0"/>
<rect x="635" y="604" width="1" height="91" fill="#c0c0c0"/>
<rect x="643" y="601" width="1" height="94" fill="#c0c0c0"/>
<rect x="651" y="600" width="1" height="95" fill="#c0c0c0"/>
<rect x="659" y="597" width="1" height="98" fill="#c0c0c0"/>
<rect x="667" y="609" width="1" height="86" fill="#c0c0c0"/>
<rect x="675" y="617" width="1" height="78" fill="#c0c0c0"/>
<rect x="683" y="621" width="1" height="74" fill="#c0c0c0"/>
<rect x="691" y="624" width="1" height="71" fill="#c0c0c0"/>
<rect x="699" y="620" width="1" height="75" fill="#c0c0c0"/>
<rect x="707" y="618" width="1" height="77" fill="#c0c0c0"/>
<rect x="715" y="618" width="1" height="77" fill="#c0c0c0"/>
<rect x="723" y="617" width="1" height="78" fill="#c0c0c0"/>
<rect x="731" y="619" width="1" height="76" fill="#c0c0c0"/>
<rect x="739" y="622" width="1" height="73" fill="#c0c0c0"/>
<rect x="747" y="624" width="1" height="71" fill="#c0c0c0"/>
<rect x="755" y="626" width="1" height="69" fill="#c0c0c0"/>
<rect x="763" y="628" width="1" height="67" fill="#c0c0c0"/>
<rect x="771" y="637" width="1" height="58" fill="#c0c0c0"/>
<rect x="779" y="645" width="1" height="50" fill="#c0c0c0"/>
<rect x="787" y="652" width="1" height="43" fill="#c0c0c0"/>
<rect x="795" y="659" width="1" height="36" fill="#c0c0c0"/>
<rect x="803" y="663" width="1" height="32" fill="#c0c0c0"/>
<rect x="811" y="665" width="1" height="30" fill="#c0c0c0"/>
<rect x="819" y="667" width="1" height="28" fill="#c0c0c0"/>
<rect x="827" y="677" width="1" height="18" fill="#c0c0c0"/>
<rect x="835" y="684" width="1" height="11" fill="#c0c0c0"/>
<rect x="843" y="689" width="1" height="6" fill="#c0c0c0"/>
<rect x="851" y="689" width="1" height="6" fill="#c0c0c0"/>
<rect x="859" y="687" width="1" height="8" fill="#c0c0c0"/>
<rect x="867" y="677" width="1" height="18" fill="#c0c0c0"/>
<rect x="875" y="672" width="1" height="23" fill="#c0c0c0"/>
<rect x="883" y="668" width="1" height="27" fill="#c0c0c0"/>
<rect x="891" y="660" width="1" height="35" fill="#c0c0c0"/>
<rect x="899" y="654" width="1" height="41" fill="#c0c0c0"/>
<rect x="907" y="650" width="1" height="45" fill="#c0c0c0"/>
<rect x="915" y="648" width="1" height="47" fill="#c0c0c0"/>
<rect x="923" y="646" width="1" height="49" fill="#c0c0c0"/>
<rect x="931" y="638" width="1" height="57" fill="#c0c0c0"/>
<rect x="939" y="627" width="1" height="68" fill="#c0c0c0"/>
<rect x="947" y="623" width="1" height="72" fill="#c0c0c0"/>
<rect x="955" y="621" width="1" height="74" fill="#c0c0c0"/>
<rect x="963" y="619" width="1" height="76" fill="#c0c0c0"/>
<rect x="971" y="619" width="1" height="76" fill="#c0c0c0"/>
<rect x="979" y="624" width="1" height="71" fill="#c0c0c0"/>
<rect x="987" y="626" width="1" height="69" fill="#c0c0c0"/>
<rect x="995" y="629" width="1" height="66" fill="#c0c0c0"/>
<rect x="1003" y="630" width="1" height="65" fill="#c0c0c0"/>
<rect x="1011" y="633" width="1" height="62" fill="#c0c0c0"/>
<rect x="1019" y="637" width="1" height="58" fill="#c0c0c0"/>
<rect x="1027" y="641" width="1" height="54" fill="#c0c0c0"/>
<rect x="1035" y="644" width="1" height="51" fill="#c0c0c0"/>
<rect x="1043" y="649" width="1" height="46" fill="#c0c0c0"/>
<rect x="1051" y="651" width="1" height="44" fill="#c0c0c0"/>
<rect x="1059" y="651" width="1" height="44" fill="#c0c0c0"/>
<rect x="1067" y="650" width="1" height="45" fill="#c0c0c0"/>
<rect x="1075" y="647" width="1" height="48" fill="#c0c0c0"/>
<rect x="1083" y="639" width="1" height="56" fill="#c0c0c0"/>
<rect x="1091" y="632" width="1" height="63" fill="#c0c0c0"/>
<rect x="1099" y="628" width="1" height="67" fill="#c0c0c0"/>
<rect x="1107" y="623" width="1" height="72" fill="#c0c0c0"/>
<rect x="1115" y="621" width="1" height="74" fill="#c0c0c0"/>
<rect x="1123" y="622" width="1" height="73" fill="#c0c0c0"/>
<rect x="1131" y="626" width="1" height="69" fill="#c0c0c0"/>
<rect x="1139" y="629" width="1" height="66" fill="#c0c0c0"/>
<rect x="1147" y="634" width="1" height="61" fill="#c0c0c0"/>
<rect x="1155" y="638" width="1" height="57" fill="#c0c0c0"/>
<rect x="1163" y="639" width="1" height="56" fill="#c0c0c0"/>
<rect x="1171" y="640" width="1" height="55" fill="#c0c0c0"/>
<rect x="1179" y="643" width="1" height="52" fill="#c0c0c0"/>
<rect x="1187" y="647" width="1" height="48" fill="#c0c0c0"/>
<rect x="1195" y="652" width="1" height="43" fill="#c0c0c0"/>
<rect x="1203" y="657" width="1" height="38" fill="#c0c0c0"/>
<rect x="1211" y="662" width="1" height="33" fill="#c0c0c0"/>
<rect x="1219" y="672" width="1" height="23" fill="#c0c0c0"/>
<rect x="1227" y="686" width="1" height="9" fill="#c0c0c0"/>
<rect x="1235" y="694" width="1" height="1" fill="#c0c0c0"/>
<rect x="1243" y="694" width="1" height="7" fill="#c0c0c0"/>
<rect x="1251" y="694" width="1" height="13" fill="#c0c0c0"/>
<rect x="1259" y="694" width="1" height="13" fill="#c0c0c0"/>
<rect x="1267" y="694" width="1" height="13" fill="#c0c0c0"/>
<rect x="1275" y="694" width="1" height="15" fill="#c0c0c0"/>
<rect x="1283" y="694" width="1" height="13" fill="#c0c0c0"/>
<rect x="1291" y="694" width="1" height="9" fill="#c0c0c0"/>
<rect x="1299" y="694" width="1" height="4" fill="#c0c0c0"/>
<rect x="1307" y="694" width="1" height="4" fill="#c0c0c0"/>
<rect x="1315" y="694" width="1" height="3" fill="#c0c0c0"/>
<rect x="1323" y="694" width="1" height="3" fill="#c0c0c0"/>
<rect x="1331" y="694" width="1" height="13" fill="#c0c0c0"/>
<rect x="1339" y="694" width="1" height="20" fill="#c0c0c0"/>
<rect x="1347" y="694" width="1" height="23" fill="#c0c0c0"/>
<rect x="1355" y="694" width="1" height="25" fill="#c0c0c0"/>
<rect x="1363" y="694" width="1" height="37" fill="#c0c0c0"/>
<rect x="1371" y="694" width="1" height="45" fill="#c0c0c0"/>
<rect x="1379" y="694" width="1" height="47" fill="#c0c0c0"/>
<rect x="1387" y="694" width="1" height="44" fill="#c0c0c0"/>
<polyline fill="none" stroke="#ff0000" stroke-width="1" points="0,696.8 6.4,697.4 10.9,695.5 18.1,694.7 27.2,693.2 36.3,691.9 43.6,690.7 50.8,688.3 58.1,687.4 72.6,685.9 108.9,685.9 118,687 123.4,687.8 141.6,688.3 147,689.6 181.5,689.2 199.6,688.3 254.1,688.3 265,689.6 286.8,691 291.8,691.9 298.9,691 307.7,690.5 316.6,688 323.7,687 330.8,684.8 337.8,682.7 346.7,677.4 355.6,673.8 364.4,668.9 371.5,665.3 380.4,661.4 389.2,656.5 396.3,652.9 403.4,649.4 412.3,647.6 419.4,644.1 428.2,640.5 437.1,638.4 444.2,634.9 451.3,631.7 458.4,629.9 467.2,624.9 474.3,620.7 481.4,616.6 492,609.5 499.1,606 508,600.1 515.1,599.4 522.1,595.9 532.8,594.8 541.6,594.1 550.5,595.3 559.4,597.1 568.2,598.3 577.1,601.5 586.8,604.7 593.9,607.7 602.7,609.5 611.6,612.5 620.4,614.3 625.8,614.8 638.2,614.8 647,613.1 652.3,611.3 663,609.5 673.6,607.7 687.8,608.3 694.9,609 705.5,611.8 714.4,613.9 726.8,616.6 737.4,619.6 753.4,620.7 771.1,621.9 779.9,625.5 787,629.5 794.1,634.9 804.7,640.2 811.8,643.7 822.5,651.2 829.6,656.1 840.2,665 850.8,670.3 859.7,675.1 868.5,676.9 880,679.2 888.9,678.1 896,676.9 901.3,675.1 908.4,670.6 915.4,666.2 922.5,662.7 929.6,657.9 936.7,652.9 943.8,649.4 950.9,644.1 958,639.6 965.1,634.9 972.2,631.7 979.2,628.5 986.3,626.3 995.2,624.9 1004,624.2 1011.1,624.9 1020,626 1027.1,629 1035.9,630.8 1043,634.9 1051.9,638.4 1062.5,640.5 1071.4,643.2 1074.9,645 1090.9,645 1098,642.7 1108.6,640.5 1115.7,637.9 1124.6,633.8 1131.6,631.7 1140.5,629.9 1145.8,628.1 1158.2,628.1 1167.1,629.5 1175,631.1 1182.3,632.6 1187.7,634.8 1195,638.4 1205.9,642.9 1218.6,649.3 1229.4,656.5 1244,669.2 1254.9,678 1265.7,685.6 1276.6,694.7 1287.5,700.5 1298.4,703.4 1312.9,703.4 1323.8,702.3 1338.3,702.3 1347.4,703.7 1356.5,705.2 1367.4,711 1374.6,715 1387.3,721.9" stroke-dasharray="3 3"/>
</g>
<g clip-path="url(#crsi)" shape-rendering="crispEdges">
<line x1="0" y1="786.5" x2="1646" y2="786.5" stroke="#c0c0c0" stroke-width="1" stroke-dasharray="3 3"/>
<line x1="0" y1="837.5" x2="1646" y2="837.5" stroke="#c0c0c0" stroke-width="1" stroke-dasharray="3 3"/>
<line x1="0" y1="898.5" x2="1646" y2="898.5" stroke="#c0c0c0" stroke-width="1" stroke-dasharray="3 3"/>
<polyline fill="none" stroke="#1e90ff" stroke-width="1" points="0,819.7 3.9,812.8 10.7,813.8 19.5,818.7 29.3,809.9 35.1,805 39,803.7 43.9,804.1 51.7,825.5 59.5,832.4 67.3,827.9 76.1,834.9 83.9,833.7 90.8,831.8 99.6,838.8 107.4,840.2 115.2,829 124,829 131.8,832.4 139.6,841.5 147.4,834.9 156.2,833.7 164,819.7 171.4,806 179.6,816.7 187.4,818.7 195.2,832.9 204,831.8 211.8,835.7 219.6,836.9 227.4,835.7 235.2,831.8 243,835.7 251.8,847.4 259.6,842.7 267.4,838.8 275.2,841.1 283,832.9 290,820.7 299.8,797.2 307.6,793.3 315,788.1 323.2,801.1 331,801.1 338.8,784.9 346.6,784.9 355.4,780.6 363.8,795.3 371,792.7 379.8,784.5 386.6,783 397.4,783 403.2,781.8 411,780.1 418.8,779.1 426.6,777.1 435.4,773.8 443.2,767.9 451.6,776.7 459.4,776.7 467.6,769.9 474.5,767.9 483.8,775.2 491.4,773.8 499.4,787.5 507.1,787.5 515.5,802.1 523.5,793.9 531.7,805 538.9,799.2 546.7,797.8 555.5,802.7 582.8,802.7 591.8,801.1 603.5,801.1 611.4,786.1 619.2,784.9 627,781 634.8,777.7 642.6,782.6 650.4,786.1 659.2,781 667.6,829.8 675.4,826.5 683.6,818.7 691.4,818.7 699.8,806 707,807 714.8,809.9 722.6,808 731,812.8 741.2,812.8 747,811.9 754.8,810.9 763.6,811.9 771.4,832.9 779.2,835.9 787,834.9 794.5,836.9 803.6,832.4 812.4,826.5 819.2,828.5 827,853.2 834.9,849.9 843.6,846.6 851.4,834.9 859.3,831.4 867.6,812.3 875.8,818.7 883.5,819.7 890.7,809.9 898.5,808.9 907.3,812.8 916.1,812.8 922.9,810.9 931.7,798.6 939.5,793.9 947.3,802.5 955.2,806 971.7,805 979.2,818.7 986.4,814.8 996.1,813.8 1003,810.9 1011.8,818.7 1019.6,818.7 1027.4,822 1035.2,819.3 1043.6,827.9 1051.8,820.7 1059.2,816.2 1067.8,812.8 1075.2,807 1083,796.3 1090.4,793.9 1099.6,798.6 1107.4,794.3 1115.2,798.6 1123,807.6 1131.8,816.2 1138.6,814.2 1147.4,820.1 1155.2,820.1 1163,814.2 1171.2,810.9 1180,818.1 1182.8,820.1 1188.7,824.6 1195.5,830.4 1202.3,829.8 1211.1,834.3 1218.9,850.9 1227.3,866.5 1235.5,855.8 1243.3,857.7 1251.1,859.7 1259.3,841.5 1266.7,843.1 1275.5,847.4 1283.3,839.2 1291.7,830.4 1299,829.8 1307.7,838.8 1315.5,832.9 1323.4,841.5 1332.1,860.7 1339,859.7 1346.8,854.4 1354.6,851.9 1363.4,870.4 1372.1,867.5 1379,857.7 1386.8,854.8" />
</g>
<g shape-rendering="crispEdges">
<rect x="1647" y="45" width="3" height="1" fill="#000"/>
<rect x="1647" y="78" width="3" height="1" fill="#000"/>
<rect x="1647" y="177" width="3" height="1" fill="#000"/>
<rect x="1647" y="210" width="3" height="1" fill="#000"/>
<rect x="1647" y="276" width="3" height="1" fill="#000"/>
<rect x="1647" y="309" width="3" height="1" fill="#000"/>
<rect x="1647" y="342" width="3" height="1" fill="#000"/>
<rect x="1647" y="375" width="3" height="1" fill="#000"/>
<rect x="1647" y="408" width="3" height="1" fill="#000"/>
<rect x="1647" y="441" width="3" height="1" fill="#000"/>
<rect x="1647" y="474" width="3" height="1" fill="#000"/>
<rect x="1647" y="507" width="3" height="1" fill="#000"/>
<rect x="1647" y="540" width="3" height="1" fill="#000"/>
<rect x="1647" y="573" width="3" height="1" fill="#000"/>
<rect x="1647" y="111" width="2" height="1" fill="#000"/>
<rect x="1647" y="143" width="2" height="1" fill="#000"/>
<rect x="1647" y="174" width="2" height="1" fill="#000"/>
<rect x="1647" y="189" width="2" height="1" fill="#000"/>
<rect x="1647" y="214" width="2" height="1" fill="#000"/>
<rect x="1647" y="243" width="2" height="1" fill="#000"/>
</g>
<text class="t" x="1651.8" y="48.1" font-family="'Liberation Sans', Arial, sans-serif" font-size="9.7" fill="#000" stroke="#000" text-anchor="start" font-weight="normal" letter-spacing="-0.25">6.84150</text>
<text class="t" x="1651.8" y="81.1" font-family="'Liberation Sans', Arial, sans-serif" font-size="9.7" fill="#000" stroke="#000" text-anchor="start" font-weight="normal" letter-spacing="-0.25">6.81090</text>
<text class="t" x="1651.8" y="180.1" font-family="'Liberation Sans', Arial, sans-serif" font-size="9.7" fill="#000" stroke="#000" text-anchor="start" font-weight="normal" letter-spacing="-0.25">6.72000</text>
<text class="t" x="1651.8" y="213.1" font-family="'Liberation Sans', Arial, sans-serif" font-size="9.7" fill="#000" stroke="#000" text-anchor="start" font-weight="normal" letter-spacing="-0.25">6.69040</text>
<text class="t" x="1651.8" y="279.1" font-family="'Liberation Sans', Arial, sans-serif" font-size="9.7" fill="#000" stroke="#000" text-anchor="start" font-weight="normal" letter-spacing="-0.25">6.62910</text>
<text class="t" x="1651.8" y="312.1" font-family="'Liberation Sans', Arial, sans-serif" font-size="9.7" fill="#000" stroke="#000" text-anchor="start" font-weight="normal" letter-spacing="-0.25">6.59940</text>
<text class="t" x="1651.8" y="345.1" font-family="'Liberation Sans', Arial, sans-serif" font-size="9.7" fill="#000" stroke="#000" text-anchor="start" font-weight="normal" letter-spacing="-0.25">6.56880</text>
<text class="t" x="1651.8" y="378.1" font-family="'Liberation Sans', Arial, sans-serif" font-size="9.7" fill="#000" stroke="#000" text-anchor="start" font-weight="normal" letter-spacing="-0.25">6.53820</text>
<text class="t" x="1651.8" y="411.1" font-family="'Liberation Sans', Arial, sans-serif" font-size="9.7" fill="#000" stroke="#000" text-anchor="start" font-weight="normal" letter-spacing="-0.25">6.50850</text>
<text class="t" x="1651.8" y="444.1" font-family="'Liberation Sans', Arial, sans-serif" font-size="9.7" fill="#000" stroke="#000" text-anchor="start" font-weight="normal" letter-spacing="-0.25">6.47790</text>
<text class="t" x="1651.8" y="477.1" font-family="'Liberation Sans', Arial, sans-serif" font-size="9.7" fill="#000" stroke="#000" text-anchor="start" font-weight="normal" letter-spacing="-0.25">6.44730</text>
<text class="t" x="1651.8" y="510.1" font-family="'Liberation Sans', Arial, sans-serif" font-size="9.7" fill="#000" stroke="#000" text-anchor="start" font-weight="normal" letter-spacing="-0.25">6.41760</text>
<text class="t" x="1651.8" y="543.1" font-family="'Liberation Sans', Arial, sans-serif" font-size="9.7" fill="#000" stroke="#000" text-anchor="start" font-weight="normal" letter-spacing="-0.25">6.38700</text>
<text class="t" x="1651.8" y="576.1" font-family="'Liberation Sans', Arial, sans-serif" font-size="9.7" fill="#000" stroke="#000" text-anchor="start" font-weight="normal" letter-spacing="-0.25">6.35730</text>
<rect x="1648" y="105" width="41" height="11" fill="#ff0000" shape-rendering="crispEdges"/>
<text class="t" x="1651.8" y="114.2" font-family="'Liberation Sans', Arial, sans-serif" font-size="9.7" fill="#fff" stroke="#fff" text-anchor="start" font-weight="normal" letter-spacing="-0.25">6.78034</text>
<rect x="1648" y="137" width="41" height="11" fill="#ff0000" shape-rendering="crispEdges"/>
<text class="t" x="1651.8" y="146.2" font-family="'Liberation Sans', Arial, sans-serif" font-size="9.7" fill="#fff" stroke="#fff" text-anchor="start" font-weight="normal" letter-spacing="-0.25">6.75143</text>
<rect x="1648" y="168" width="41" height="11" fill="#ffa500" shape-rendering="crispEdges"/>
<text class="t" x="1651.8" y="177.2" font-family="'Liberation Sans', Arial, sans-serif" font-size="9.7" fill="#fff" stroke="#fff" text-anchor="start" font-weight="normal" letter-spacing="-0.25">6.72315</text>
<rect x="1648" y="184" width="41" height="11" fill="#000000" shape-rendering="crispEdges"/>
<text class="t" x="1651.8" y="193.2" font-family="'Liberation Sans', Arial, sans-serif" font-size="9.7" fill="#fff" stroke="#fff" text-anchor="start" font-weight="normal" letter-spacing="-0.25">6.70894</text>
<rect x="1648" y="208" width="41" height="11" fill="#0000ff" shape-rendering="crispEdges"/>
<text class="t" x="1651.8" y="217.2" font-family="'Liberation Sans', Arial, sans-serif" font-size="9.7" fill="#fff" stroke="#fff" text-anchor="start" font-weight="normal" letter-spacing="-0.25">6.68575</text>
<rect x="1648" y="237" width="41" height="11" fill="#0000ff" shape-rendering="crispEdges"/>
<text class="t" x="1651.8" y="246.2" font-family="'Liberation Sans', Arial, sans-serif" font-size="9.7" fill="#fff" stroke="#fff" text-anchor="start" font-weight="normal" letter-spacing="-0.25">6.65929</text>
<text class="t" x="1650" y="588.7" font-family="'Liberation Sans', Arial, sans-serif" font-size="9.5" fill="#000" stroke="#000" text-anchor="start" font-weight="normal" letter-spacing="-0.25">0.045726</text>
<rect x="1647" y="694" width="3" height="1" fill="#000"/>
<text class="t" x="1650" y="698" font-family="'Liberation Sans', Arial, sans-serif" font-size="9.5" fill="#000" stroke="#000" text-anchor="start" font-weight="normal" letter-spacing="-0.25">0.00</text>
<text class="t" x="1650" y="744.7" font-family="'Liberation Sans', Arial, sans-serif" font-size="9.5" fill="#000" stroke="#000" text-anchor="start" font-weight="normal" letter-spacing="-0.25">-0.021639</text>
<text class="t" x="1650" y="761" font-family="'Liberation Sans', Arial, sans-serif" font-size="9.5" fill="#000" stroke="#000" text-anchor="start" font-weight="normal" letter-spacing="-0.25">100</text>
<text class="t" x="1650" y="790" font-family="'Liberation Sans', Arial, sans-serif" font-size="9.5" fill="#000" stroke="#000" text-anchor="start" font-weight="normal" letter-spacing="-0.25">80</text>
<text class="t" x="1650" y="841" font-family="'Liberation Sans', Arial, sans-serif" font-size="9.5" fill="#000" stroke="#000" text-anchor="start" font-weight="normal" letter-spacing="-0.25">50</text>
<text class="t" x="1650" y="902" font-family="'Liberation Sans', Arial, sans-serif" font-size="9.5" fill="#000" stroke="#000" text-anchor="start" font-weight="normal" letter-spacing="-0.25">15</text>
<text class="t" x="1650" y="921" font-family="'Liberation Sans', Arial, sans-serif" font-size="9.5" fill="#000" stroke="#000" text-anchor="start" font-weight="normal" letter-spacing="-0.25">0</text>
<g shape-rendering="crispEdges">
<rect x="51" y="925" width="1" height="3" fill="#000"/>
<rect x="115" y="925" width="1" height="3" fill="#000"/>
<rect x="179" y="925" width="1" height="3" fill="#000"/>
<rect x="243" y="925" width="1" height="3" fill="#000"/>
<rect x="307" y="925" width="1" height="3" fill="#000"/>
<rect x="371" y="925" width="1" height="3" fill="#000"/>
<rect x="435" y="925" width="1" height="3" fill="#000"/>
<rect x="499" y="925" width="1" height="3" fill="#000"/>
<rect x="563" y="925" width="1" height="3" fill="#000"/>
<rect x="627" y="925" width="1" height="3" fill="#000"/>
<rect x="691" y="925" width="1" height="3" fill="#000"/>
<rect x="755" y="925" width="1" height="3" fill="#000"/>
<rect x="819" y="925" width="1" height="3" fill="#000"/>
<rect x="883" y="925" width="1" height="3" fill="#000"/>
<rect x="947" y="925" width="1" height="3" fill="#000"/>
<rect x="1011" y="925" width="1" height="3" fill="#000"/>
<rect x="1075" y="925" width="1" height="3" fill="#000"/>
<rect x="1139" y="925" width="1" height="3" fill="#000"/>
<rect x="1203" y="925" width="1" height="3" fill="#000"/>
<rect x="1267" y="925" width="1" height="3" fill="#000"/>
<rect x="1331" y="925" width="1" height="3" fill="#000"/>
</g>
<text class="t" x="32" y="937" font-family="'Liberation Sans', Arial, sans-serif" font-size="9.5" fill="#000" stroke="#000" text-anchor="end" font-weight="normal" >11 Apr 2022</text>
<text class="t" x="50" y="937" font-family="'Liberation Sans', Arial, sans-serif" font-size="9.5" fill="#000" stroke="#000" text-anchor="start" font-weight="normal" >12 Apr 00:00</text>
<text class="t" x="114" y="937" font-family="'Liberation Sans', Arial, sans-serif" font-size="9.5" fill="#000" stroke="#000" text-anchor="start" font-weight="normal" >13 Apr 08:00</text>
<text class="t" x="178" y="937" font-family="'Liberation Sans', Arial, sans-serif" font-size="9.5" fill="#000" stroke="#000" text-anchor="start" font-weight="normal" >14 Apr 16:00</text>
<text class="t" x="242" y="937" font-family="'Liberation Sans', Arial, sans-serif" font-size="9.5" fill="#000" stroke="#000" text-anchor="start" font-weight="normal" >18 Apr 04:00</text>
<text class="t" x="306" y="937" font-family="'Liberation Sans', Arial, sans-serif" font-size="9.5" fill="#000" stroke="#000" text-anchor="start" font-weight="normal" >19 Apr 12:00</text>
<text class="t" x="370" y="937" font-family="'Liberation Sans', Arial, sans-serif" font-size="9.5" fill="#000" stroke="#000" text-anchor="start" font-weight="normal" >20 Apr 20:00</text>
<text class="t" x="434" y="937" font-family="'Liberation Sans', Arial, sans-serif" font-size="9.5" fill="#000" stroke="#000" text-anchor="start" font-weight="normal" >22 Apr 04:00</text>
<text class="t" x="498" y="937" font-family="'Liberation Sans', Arial, sans-serif" font-size="9.5" fill="#000" stroke="#000" text-anchor="start" font-weight="normal" >25 Apr 16:00</text>
<text class="t" x="562" y="937" font-family="'Liberation Sans', Arial, sans-serif" font-size="9.5" fill="#000" stroke="#000" text-anchor="start" font-weight="normal" >27 Apr 00:00</text>
<text class="t" x="626" y="937" font-family="'Liberation Sans', Arial, sans-serif" font-size="9.5" fill="#000" stroke="#000" text-anchor="start" font-weight="normal" >28 Apr 08:00</text>
<text class="t" x="690" y="937" font-family="'Liberation Sans', Arial, sans-serif" font-size="9.5" fill="#000" stroke="#000" text-anchor="start" font-weight="normal" >29 Apr 16:00</text>
<text class="t" x="754" y="937" font-family="'Liberation Sans', Arial, sans-serif" font-size="9.5" fill="#000" stroke="#000" text-anchor="start" font-weight="normal" >3 May 04:00</text>
<text class="t" x="818" y="937" font-family="'Liberation Sans', Arial, sans-serif" font-size="9.5" fill="#000" stroke="#000" text-anchor="start" font-weight="normal" >4 May 12:00</text>
<text class="t" x="882" y="937" font-family="'Liberation Sans', Arial, sans-serif" font-size="9.5" fill="#000" stroke="#000" text-anchor="start" font-weight="normal" >5 May 20:00</text>
<text class="t" x="946" y="937" font-family="'Liberation Sans', Arial, sans-serif" font-size="9.5" fill="#000" stroke="#000" text-anchor="start" font-weight="normal" >9 May 08:00</text>
<text class="t" x="1010" y="937" font-family="'Liberation Sans', Arial, sans-serif" font-size="9.5" fill="#000" stroke="#000" text-anchor="start" font-weight="normal" >10 May 16:00</text>
<text class="t" x="1074" y="937" font-family="'Liberation Sans', Arial, sans-serif" font-size="9.5" fill="#000" stroke="#000" text-anchor="start" font-weight="normal" >12 May 00:00</text>
<text class="t" x="1138" y="937" font-family="'Liberation Sans', Arial, sans-serif" font-size="9.5" fill="#000" stroke="#000" text-anchor="start" font-weight="normal" >13 May 08:00</text>
<text class="t" x="1202" y="937" font-family="'Liberation Sans', Arial, sans-serif" font-size="9.5" fill="#000" stroke="#000" text-anchor="start" font-weight="normal" >16 May 20:00</text>
<text class="t" x="1266" y="937" font-family="'Liberation Sans', Arial, sans-serif" font-size="9.5" fill="#000" stroke="#000" text-anchor="start" font-weight="normal" >18 May 04:00</text>
<text class="t" x="1330" y="937" font-family="'Liberation Sans', Arial, sans-serif" font-size="9.5" fill="#000" stroke="#000" text-anchor="start" font-weight="normal" >19 May 12:00</text>
<text class="t" x="2.5" y="35" font-family="'Liberation Sans', Arial, sans-serif" font-size="10" fill="#000" stroke="#000" text-anchor="start" font-weight="normal" letter-spacing="-0.34">USDCNH-,H4&#160;&#160;6.70367 6.71591 6.70170 6.70894</text>
<text class="t" x="-8.3" y="591" font-family="'Liberation Sans', Arial, sans-serif" font-size="10" fill="#000" stroke="#000" text-anchor="start" font-weight="normal" letter-spacing="-0.3">MACD(12,26,9) -0.018576 -0.011271</text>
<text class="t" x="-10" y="763.5" font-family="'Liberation Sans', Arial, sans-serif" font-size="10" fill="#000" stroke="#000" text-anchor="start" font-weight="normal" letter-spacing="-0.3">RSI(14) 40.2757</text>
<line x1="1314" y1="114" x2="1359.7" y2="218.3" stroke="#ff0000" stroke-width="2.5" stroke-linecap="round"/>
<polygon fill="#ff0000" points="1363.3,226.5 1353.4,218.8 1364.4,214"/>
<line x1="1363.3" y1="226" x2="1390.1" y2="179.8" stroke="#ff0000" stroke-width="2.5" stroke-linecap="round"/>
<polygon fill="#ff0000" points="1394.6,172 1394.3,184.5 1383.9,178.5"/>
<line x1="1394.6" y1="172.7" x2="1417.6" y2="199.2" stroke="#ff0000" stroke-width="2.5" stroke-linecap="round"/>
<polygon fill="#ff0000" points="1423.5,206 1411.8,201.6 1420.8,193.8"/>
<line x1="1340.2" y1="696.5" x2="1394.5" y2="738.2" stroke="#ff0000" stroke-width="2.5" stroke-linecap="round"/>
<polygon fill="#ff0000" points="1400,742.5 1389.8,741 1395.9,733"/>
<line x1="1310.7" y1="842.2" x2="1393.3" y2="866.2" stroke="#ff0000" stroke-width="2.5" stroke-linecap="round"/>
<polygon fill="#ff0000" points="1401,868.4 1390,870.4 1392.8,860.8"/>
<polygon fill="#a0a0a0" points="1391,24 1400,24 1395.5,28.5"/>
<defs><linearGradient id="gtop" x1="0" y1="0" x2="0" y2="1"><stop offset="0" stop-color="#5656ff"/><stop offset="1" stop-color="#3434ea"/></linearGradient><linearGradient id="gbot" x1="0" y1="0" x2="0" y2="1"><stop offset="0" stop-color="#3a3ae8"/><stop offset="1" stop-color="#0000b4"/></linearGradient><linearGradient id="gbtn" x1="0" y1="0" x2="0" y2="1"><stop offset="0" stop-color="#f2f2f2"/><stop offset="0.45" stop-color="#e6e6e6"/><stop offset="0.55" stop-color="#d8d8d8"/><stop offset="1" stop-color="#d0d0d0"/></linearGradient></defs>
<g shape-rendering="crispEdges">
<rect x="0" y="43" width="42" height="24" fill="url(#gtop)"/>
<rect x="0" y="43" width="42" height="1" fill="#0000b0"/>
<rect x="41" y="43" width="1" height="24" fill="#0000b0"/>
<rect x="157" y="43" width="52" height="24" fill="url(#gtop)"/>
<rect x="157" y="43" width="52" height="1" fill="#0000b0"/>
<rect x="157" y="43" width="1" height="24" fill="#0000b0"/>
<rect x="208" y="43" width="1" height="57" fill="#0000b0"/>
<rect x="0" y="67" width="99" height="33" fill="url(#gbot)"/>
<rect x="101" y="67" width="108" height="33" fill="url(#gbot)"/>
<rect x="0" y="67" width="99" height="1" fill="#0000b0"/>
<rect x="101" y="67" width="108" height="1" fill="#0000b0"/>
<rect x="0" y="66" width="38" height="1" fill="#0000a0"/><rect x="0" y="67" width="38" height="1" fill="#7070ff"/>
<rect x="161" y="66" width="44" height="1" fill="#0000a0"/><rect x="161" y="67" width="44" height="1" fill="#7070ff"/>
<rect x="44" y="43" width="111" height="22" fill="#a8a8a8"/>
<rect x="45" y="44" width="109" height="20" fill="#ffffff"/>
<rect x="45" y="44" width="20" height="20" fill="url(#gbtn)"/>
<rect x="65" y="44" width="1" height="20" fill="#b0b0b0"/>
<rect x="134" y="44" width="20" height="20" fill="url(#gbtn)"/>
<rect x="133" y="44" width="1" height="20" fill="#b0b0b0"/>
</g>
<polygon points="51.5,51.5 57.5,51.5 54.5,55" fill="#4a5ad0"/>
<polygon points="140.5,55.5 146.5,55.5 143.5,52" fill="#4a5ad0"/>
<text x="130" y="58.2" font-family="'DejaVu Sans Condensed', 'DejaVu Sans', sans-serif" font-size="12" fill="#000" text-anchor="end">1.00</text>
<text x="2" y="59.3" font-family="'DejaVu Sans Condensed', 'DejaVu Sans', sans-serif" font-size="13" fill="#fff" letter-spacing="-0.6">SELL</text>
<text x="170" y="59.3" font-family="'DejaVu Sans Condensed', 'DejaVu Sans', sans-serif" font-size="13" fill="#fff" letter-spacing="-0.2">BUY</text>
<text x="9.5" y="95" font-family="'DejaVu Sans Condensed', 'DejaVu Sans', sans-serif" font-size="12" font-weight="bold" fill="#fff" letter-spacing="-0.4">6.70</text>
<text x="37" y="95" font-family="'Liberation Sans', Arial, sans-serif" font-size="33" fill="#fff" letter-spacing="-0.8">89</text>
<text x="76.5" y="79" font-family="'DejaVu Sans Condensed', 'DejaVu Sans', sans-serif" font-size="12" font-weight="bold" fill="#fff">4</text>
<text x="119.5" y="95" font-family="'DejaVu Sans Condensed', 'DejaVu Sans', sans-serif" font-size="12" font-weight="bold" fill="#fff" letter-spacing="-0.4">6.71</text>
<text x="148" y="95" font-family="'Liberation Sans', Arial, sans-serif" font-size="33" fill="#fff" letter-spacing="-0.8">12</text>
<text x="188" y="79" font-family="'DejaVu Sans Condensed', 'DejaVu Sans', sans-serif" font-size="12" font-weight="bold" fill="#fff">3</text>
<polygon points="164.5,102 166,103.5 164.5,105 163,103.5" fill="none" stroke="#000" stroke-width="0.8"/>
<rect x="0" y="0" width="1693" height="19" fill="#f0f0f0"/>
<rect x="0" y="19" width="1693" height="1" fill="#a0a0a0"/>
<rect x="0" y="20" width="1693" height="1" fill="#c8c8c8"/>
<rect x="0" y="21" width="1693" height="2" fill="#ffffff"/>
<rect x="1692" y="19" width="1" height="927" fill="#d0d0d0"/>
<rect x="0" y="945" width="1693" height="1" fill="#e0e0e0"/>
<rect x="0" y="946" width="1693" height="1" fill="#f4f4f4"/>
<rect x="0" y="947" width="889" height="1" fill="#000"/>
<rect x="987" y="947" width="706" height="1" fill="#000"/>
<rect x="889" y="947" width="98" height="1" fill="#f0f0f0"/>
<g shape-rendering="crispEdges">
<rect x="7" y="0" width="1" height="17" fill="#a0a0a0"/><rect x="8" y="0" width="1" height="17" fill="#ffffff"/>
</g>
<path d="M17.5,-1 h8 l3,3 v11 h-11 z" fill="#fff" stroke="#7a7a7a"/>
<rect x="19" y="3" width="3" height="1" fill="#666"/><rect x="19" y="6" width="6" height="1" fill="#888"/><rect x="19" y="8" width="5" height="1" fill="#888"/>
<path d="M25,5 h4 v4 h4 v4 h-4 v4 h-4 v-4 h-4 v-4 h4 z" fill="#2ecc40" stroke="#138a13" stroke-width="0.8"/>
<text x="36.5" y="10" font-family="'DejaVu Sans', sans-serif" font-size="12" fill="#000" stroke="#000" stroke-width="0.2">New Order</text>
<polygon points="113,8 120,0 129,7 122,15" fill="#e2b53a" stroke="#9a6b10" stroke-width="0.8"/>
<polygon points="114,9 122,15 121,16 113,10" fill="#b58320"/>
<rect x="143" y="-1" width="10" height="10" fill="#3d8fe8" stroke="#2060b0" stroke-width="0.8"/>
<rect x="145" y="2" width="6" height="1" fill="#fff"/><rect x="145" y="5" width="6" height="1" fill="#fff"/>
<path d="M142,14 q-1,-4 3,-4 q2,-4 6,-2 q4,-1 5,3 q2,3 -1,4 z" fill="#eef3fb" stroke="#6f86b0" stroke-width="0.9"/>
<circle cx="177" cy="7" r="7" fill="none" stroke="#9ab8e0" stroke-width="1"/>
<circle cx="177" cy="7" r="4.5" fill="none" stroke="#6a98d8" stroke-width="1"/>
<circle cx="177" cy="7" r="2" fill="#2a60c8"/>
<path d="M184,7 a7,7 0 0 1 -7,7" fill="none" stroke="#3aaa3a" stroke-width="1.5"/>
<rect x="177" y="7" width="1" height="8" fill="#3aaa3a"/>
<ellipse cx="203" cy="3" rx="7" ry="3" fill="#5aaee8" stroke="#2a78b8" stroke-width="0.8"/>
<polygon points="197,6 210,6 205,14" fill="#f2d44a" stroke="#b89a20" stroke-width="0.8"/>
<circle cx="208.5" cy="11" r="4.2" fill="#d42a1a"/>
<rect x="207" y="9.5" width="3" height="3" fill="#fff"/>
<text x="217.4" y="10" font-family="'DejaVu Sans', sans-serif" font-size="12" fill="#000" stroke="#000" stroke-width="0.2" letter-spacing="-0.05">AutoTrading</text>
<g shape-rendering="crispEdges">
<rect x="296" y="0" width="1" height="17" fill="#a0a0a0"/><rect x="297" y="0" width="1" height="17" fill="#ffffff"/>
<rect x="300" y="1" width="3" height="1" fill="#a8a8a8"/>
<rect x="300" y="3" width="3" height="1" fill="#a8a8a8"/>
<rect x="300" y="5" width="3" height="1" fill="#a8a8a8"/>
<rect x="300" y="7" width="3" height="1" fill="#a8a8a8"/>
<rect x="300" y="9" width="3" height="1" fill="#a8a8a8"/>
<rect x="300" y="11" width="3" height="1" fill="#a8a8a8"/>
<rect x="300" y="13" width="3" height="1" fill="#a8a8a8"/>
<rect x="300" y="15" width="3" height="1" fill="#a8a8a8"/>
<rect x="334" y="0" width="1" height="17" fill="#a0a0a0"/><rect x="335" y="0" width="1" height="17" fill="#ffffff"/>
<rect x="336" y="0" width="24" height="17" fill="#f8f8f8"/>
<rect x="391" y="0" width="1" height="17" fill="#a0a0a0"/><rect x="392" y="0" width="1" height="17" fill="#ffffff"/>
<rect x="481" y="0" width="1" height="17" fill="#a0a0a0"/><rect x="482" y="0" width="1" height="17" fill="#ffffff"/>
<rect x="487" y="0" width="24" height="17" fill="#f8f8f8"/>
<rect x="514" y="0" width="1" height="17" fill="#a0a0a0"/><rect x="515" y="0" width="1" height="17" fill="#ffffff"/>
<rect x="516" y="0" width="24" height="17" fill="#f8f8f8"/>
<rect x="543" y="0" width="1" height="17" fill="#a0a0a0"/><rect x="544" y="0" width="1" height="17" fill="#ffffff"/>
<rect x="664" y="0" width="1" height="17" fill="#a0a0a0"/><rect x="665" y="0" width="1" height="17" fill="#ffffff"/>
<rect x="668" y="1" width="3" height="1" fill="#a8a8a8"/>
<rect x="668" y="3" width="3" height="1" fill="#a8a8a8"/>
<rect x="668" y="5" width="3" height="1" fill="#a8a8a8"/>
<rect x="668" y="7" width="3" height="1" fill="#a8a8a8"/>
<rect x="668" y="9" width="3" height="1" fill="#a8a8a8"/>
<rect x="668" y="11" width="3" height="1" fill="#a8a8a8"/>
<rect x="668" y="13" width="3" height="1" fill="#a8a8a8"/>
<rect x="668" y="15" width="3" height="1" fill="#a8a8a8"/>
<rect x="674" y="0" width="1" height="17" fill="#a0a0a0"/><rect x="675" y="0" width="1" height="17" fill="#ffffff"/>
<rect x="675" y="0" width="25" height="17" fill="#f8f8f8"/>
<rect x="731" y="0" width="1" height="17" fill="#a0a0a0"/><rect x="732" y="0" width="1" height="17" fill="#ffffff"/>
<rect x="970" y="0" width="1" height="17" fill="#a0a0a0"/><rect x="971" y="0" width="1" height="17" fill="#ffffff"/>
<rect x="973" y="1" width="3" height="1" fill="#a8a8a8"/>
<rect x="973" y="3" width="3" height="1" fill="#a8a8a8"/>
<rect x="973" y="5" width="3" height="1" fill="#a8a8a8"/>
<rect x="973" y="7" width="3" height="1" fill="#a8a8a8"/>
<rect x="973" y="9" width="3" height="1" fill="#a8a8a8"/>
<rect x="973" y="11" width="3" height="1" fill="#a8a8a8"/>
<rect x="973" y="13" width="3" height="1" fill="#a8a8a8"/>
<rect x="973" y="15" width="3" height="1" fill="#a8a8a8"/>
<rect x="1120" y="0" width="1" height="17" fill="#a0a0a0"/><rect x="1121" y="0" width="1" height="17" fill="#ffffff"/>
<rect x="1121" y="0" width="25" height="17" fill="#f8f8f8"/>
<rect x="1231" y="0" width="1" height="17" fill="#a0a0a0"/><rect x="1232" y="0" width="1" height="17" fill="#ffffff"/>
</g>
<g shape-rendering="crispEdges"><rect x="314" y="1" width="1" height="13" fill="#505050"/>
<rect x="312" y="12" width="14" height="1" fill="#505050"/></g>
<polygon points="312.5,3 316.5,3 314.5,0.5" fill="#505050"/>
<polygon points="324,10.5 324,14.5 326.5,12.5" fill="#505050"/>
<path d="M318,9.5 h2 v-7 h3" fill="none" stroke="#1a9a1a" stroke-width="1.2"/>
<g shape-rendering="crispEdges"><rect x="342" y="1" width="1" height="13" fill="#505050"/>
<rect x="340" y="12" width="14" height="1" fill="#505050"/></g>
<polygon points="340.5,3 344.5,3 342.5,0.5" fill="#505050"/>
<polygon points="352,10.5 352,14.5 354.5,12.5" fill="#505050"/>
<rect x="348" y="-0.5" width="1" height="11" fill="#1a7a1a"/>
<rect x="346.5" y="0.5" width="4" height="7.5" fill="#3ad35a" stroke="#1a7a1a" stroke-width="0.8"/>
<g shape-rendering="crispEdges"><rect x="370" y="1" width="1" height="13" fill="#505050"/>
<rect x="368" y="12" width="14" height="1" fill="#505050"/></g>
<polygon points="368.5,3 372.5,3 370.5,0.5" fill="#505050"/>
<polygon points="380,10.5 380,14.5 382.5,12.5" fill="#505050"/>
<path d="M371,9 q5,-8 9,-4 l2,2" fill="none" stroke="#1a9a1a" stroke-width="1.1"/>
<line x1="409" y1="9" x2="415" y2="15" stroke="#b8961a" stroke-width="3"/>
<line x1="409" y1="9" x2="415" y2="15" stroke="#f0d860" stroke-width="1.2"/>
<circle cx="405" cy="5" r="5" fill="#d4ecfb" stroke="#3a78c8" stroke-width="1.2"/>
<rect x="402" y="4" width="6" height="2" fill="#3a78c8"/>
<rect x="404" y="2" width="2" height="6" fill="#3a78c8"/>
<line x1="437" y1="9" x2="443" y2="15" stroke="#b8961a" stroke-width="3"/>
<line x1="437" y1="9" x2="443" y2="15" stroke="#f0d860" stroke-width="1.2"/>
<circle cx="433" cy="5" r="5" fill="#d4ecfb" stroke="#3a78c8" stroke-width="1.2"/>
<rect x="430" y="4" width="6" height="2" fill="#3a78c8"/>
<rect x="456.5" y="-0.5" width="7" height="6" fill="#3aa83a" stroke="#1a781a" stroke-width="0.8"/>
<rect x="464.5" y="-0.5" width="7" height="6" fill="#2a6ae0" stroke="#1a4aa0" stroke-width="0.8"/>
<rect x="456.5" y="7.5" width="7" height="7" fill="#2a6ae0" stroke="#1a4aa0" stroke-width="0.8"/>
<rect x="464.5" y="7.5" width="7" height="7" fill="#3aa83a" stroke="#1a781a" stroke-width="0.8"/>
<rect x="458" y="2" width="4" height="1.5" fill="#fff"/>
<rect x="466" y="2" width="4" height="1.5" fill="#fff"/>
<rect x="458" y="10" width="4" height="1.5" fill="#fff"/>
<rect x="466" y="10" width="4" height="1.5" fill="#fff"/>
<g shape-rendering="crispEdges"><rect x="494" y="1" width="1" height="13" fill="#505050"/>
<rect x="492" y="12" width="14" height="1" fill="#505050"/></g>
<polygon points="492.5,3 496.5,3 494.5,0.5" fill="#505050"/>
<polygon points="504,10.5 504,14.5 506.5,12.5" fill="#505050"/>
<polygon points="498,3 498,9 502,6" fill="#2ab82a"/>
<g shape-rendering="crispEdges"><rect x="522" y="1" width="1" height="13" fill="#505050"/>
<rect x="520" y="12" width="14" height="1" fill="#505050"/></g>
<polygon points="520.5,3 524.5,3 522.5,0.5" fill="#505050"/>
<polygon points="532,10.5 532,14.5 534.5,12.5" fill="#505050"/>
<rect x="527" y="1" width="1" height="10" fill="#2a5ab8"/>
<polygon points="528.5,5.5 531.5,3 531.5,8" fill="#d04020"/><rect x="531" y="5" width="3" height="1" fill="#d04020"/>
<path d="M552.5,-1 h8 l3,3 v11 h-11 z" fill="#fff" stroke="#7a7a7a"/>
<path d="M561,5 h4 v4 h4 v4 h-4 v4 h-4 v-4 h-4 v-4 h4 z" fill="#2ecc40" stroke="#138a13" stroke-width="0.8"/>
<polygon points="574.5,5.5 580.5,5.5 577.5,8.5" fill="#000"/>
<circle cx="599" cy="6.5" r="7.5" fill="#1a64d8"/>
<circle cx="599" cy="6.5" r="5.3" fill="#f4f4f4"/>
<path d="M599,3 v3.5 h3" fill="none" stroke="#333" stroke-width="1"/>
<polygon points="613.5,5.5 619.5,5.5 616.5,8.5" fill="#000"/>
<rect x="630.5" y="-0.5" width="15" height="14" rx="1" fill="#fff" stroke="#3a6ac8" stroke-width="1"/>
<rect x="631" y="0" width="14" height="2" fill="#7aa0e0"/>
<path d="M632,6 l3,-1 l3,1 l3,-1 l3,1" fill="none" stroke="#c02a1a" stroke-width="0.9"/>
<rect x="631" y="8" width="14" height="1" fill="#3a6ac8"/>
<path d="M632,12 l3,-2 l3,1 l3,-2 l3,1" fill="none" stroke="#1a9a1a" stroke-width="0.9"/>
<polygon points="652.5,5.5 658.5,5.5 655.5,8.5" fill="#000"/>
<polygon points="682,1 682,12 685,9.5 687.5,14 689.5,13 687,8.5 690.5,8.5" fill="#444"/>
<g shape-rendering="crispEdges"><rect x="707" y="7" width="6" height="1" fill="#444"/><rect x="716" y="7" width="6" height="1" fill="#444"/>
<rect x="714" y="0" width="1" height="6" fill="#444"/><rect x="714" y="9" width="1" height="6" fill="#444"/>
<rect x="748" y="2" width="1" height="12" fill="#444"/>
<rect x="771" y="7" width="12" height="1" fill="#444"/></g>
<line x1="798.5" y1="13.5" x2="810.5" y2="2" stroke="#555" stroke-width="1"/>
<path d="M825,12 l12,-10 M828,13 l10,-9 M826,8 l5,-4 M830,9 l5,-4 M834,10 l5,-4" stroke="#555" stroke-width="1" fill="none"/>
<text x="835" y="16" font-family="'Liberation Sans', Arial, sans-serif" font-size="7" font-weight="bold" fill="#444">E</text>
<g shape-rendering="crispEdges">
<line x1="854" y1="1.5" x2="867" y2="1.5" stroke="#666" stroke-width="1" stroke-dasharray="1 1"/>
<line x1="854" y1="4.5" x2="867" y2="4.5" stroke="#666" stroke-width="1" stroke-dasharray="1 1"/>
<line x1="854" y1="7.5" x2="867" y2="7.5" stroke="#666" stroke-width="1" stroke-dasharray="1 1"/>
<line x1="854" y1="10.5" x2="867" y2="10.5" stroke="#666" stroke-width="1" stroke-dasharray="1 1"/>
</g>
<text x="863" y="16" font-family="'Liberation Sans', Arial, sans-serif" font-size="7" font-weight="bold" fill="#444">F</text>
<text x="884" y="12" font-family="'Liberation Sans', Arial, sans-serif" font-size="11" font-weight="bold" fill="#555">A</text>
<rect x="910.5" y="0.5" width="13" height="13" fill="none" stroke="#666" stroke-dasharray="1 1" shape-rendering="crispEdges"/>
<text x="917" y="11.5" font-family="'Liberation Sans', Arial, sans-serif" font-size="11" font-weight="bold" fill="#555" text-anchor="middle">T</text>
<path d="M940,4 l3,-3 l3,3 z M945,12 l3,3 l3,-3 z" fill="#444"/><path d="M942,7 l3,3 l5,-6" fill="none" stroke="#444" stroke-width="1.3"/>
<polygon points="958.5,5.5 964.5,5.5 961.5,8.5" fill="#000"/>
<text x="985.5" y="11.2" font-family="'Liberation Sans', Arial, sans-serif" font-size="9.5" fill="#333" letter-spacing="-0.2">M1</text>
<text x="1013.4" y="11.2" font-family="'Liberation Sans', Arial, sans-serif" font-size="9.5" fill="#333" letter-spacing="-0.2">M5</text>
<text x="1039.4" y="11.2" font-family="'Liberation Sans', Arial, sans-serif" font-size="9.5" fill="#333" letter-spacing="-0.2">M15</text>
<text x="1067.6" y="11.2" font-family="'Liberation Sans', Arial, sans-serif" font-size="9.5" fill="#333" letter-spacing="-0.2">M30</text>
<text x="1098.4" y="11.2" font-family="'Liberation Sans', Arial, sans-serif" font-size="9.5" fill="#333" letter-spacing="-0.2">H1</text>
<text x="1125.5" y="11.2" font-family="'Liberation Sans', Arial, sans-serif" font-size="9.5" fill="#333" letter-spacing="-0.2">H4</text>
<text x="1154.2" y="11.2" font-family="'Liberation Sans', Arial, sans-serif" font-size="9.5" fill="#333" letter-spacing="-0.2">D1</text>
<text x="1182.1" y="11.2" font-family="'Liberation Sans', Arial, sans-serif" font-size="9.5" fill="#333" letter-spacing="-0.2">W1</text>
<text x="1208.4" y="11.2" font-family="'Liberation Sans', Arial, sans-serif" font-size="9.5" fill="#333" letter-spacing="-0.2">MN</text>
<line x1="1646" y1="8" x2="1641.2" y2="12.3" stroke="#2a64d0" stroke-width="2.5" stroke-linecap="round"/>
<circle cx="1648.6" cy="4.6" r="3.9" fill="#f4f6ff" stroke="#2a64d0" stroke-width="1.4"/>
<path d="M1666,15 l1,-3 q-3,-2 -1,-5 q3,-3 8,-2 q5,2 3,6 q-2,3 -7,2 z" fill="#e4e6ee" stroke="#a8a8b0" stroke-width="0.8"/>
<circle cx="1679.4" cy="5" r="8.2" fill="#dc3220"/>
<text x="1679.4" y="9" font-family="'Liberation Serif', serif" font-size="13" fill="#fff" text-anchor="middle">1</text>
</svg>
</body></html>
